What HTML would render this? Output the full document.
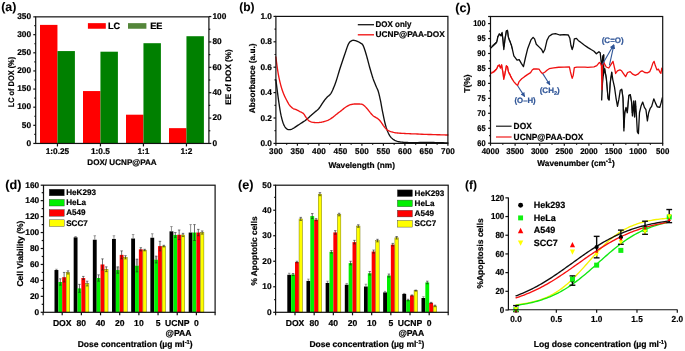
<!DOCTYPE html>
<html><head><meta charset="utf-8"><title>Figure</title>
<style>
html,body{margin:0;padding:0;background:#fff;}
body{width:685px;height:351px;overflow:hidden;}
svg{display:block;font-family:"Liberation Sans", Arial, Helvetica, sans-serif;text-rendering:geometricPrecision;filter:blur(0.4px);}
</style></head>
<body>
<svg width="685" height="351" viewBox="0 0 685 351">
<rect x="0" y="0" width="685" height="351" fill="#ffffff"/>
<rect x="40.00" y="24.89" width="17.45" height="118.56" fill="#ff0000"/>
<rect x="57.45" y="51.07" width="17.45" height="92.38" fill="#008000"/>
<rect x="83.00" y="91.06" width="17.45" height="52.39" fill="#ff0000"/>
<rect x="100.45" y="51.70" width="17.45" height="91.75" fill="#008000"/>
<rect x="126.00" y="114.70" width="17.45" height="28.75" fill="#ff0000"/>
<rect x="143.45" y="43.20" width="17.45" height="100.25" fill="#008000"/>
<rect x="169.00" y="128.15" width="17.45" height="15.30" fill="#ff0000"/>
<rect x="186.45" y="36.22" width="17.45" height="107.23" fill="#008000"/>
<rect x="35.7" y="16.85" width="173.20" height="126.60" fill="none" stroke="#111" stroke-width="1.2"/>
<line x1="33.30" y1="143.45" x2="35.70" y2="143.45" stroke="#111" stroke-width="1.2" />
<text transform="translate(31.10 145.67) scale(1.0 1.0)" font-size="8.3" text-anchor="end" fill="#000" stroke="#000" stroke-width="0.2" font-weight="bold" >0</text>
<line x1="34.30" y1="134.39" x2="35.70" y2="134.39" stroke="#111" stroke-width="1.2" />
<line x1="33.30" y1="125.32" x2="35.70" y2="125.32" stroke="#111" stroke-width="1.2" />
<text transform="translate(31.10 127.54) scale(1.0 1.0)" font-size="8.3" text-anchor="end" fill="#000" stroke="#000" stroke-width="0.2" font-weight="bold" >50</text>
<line x1="34.30" y1="116.26" x2="35.70" y2="116.26" stroke="#111" stroke-width="1.2" />
<line x1="33.30" y1="107.19" x2="35.70" y2="107.19" stroke="#111" stroke-width="1.2" />
<text transform="translate(31.10 109.41) scale(1.0 1.0)" font-size="8.3" text-anchor="end" fill="#000" stroke="#000" stroke-width="0.2" font-weight="bold" >100</text>
<line x1="34.30" y1="98.13" x2="35.70" y2="98.13" stroke="#111" stroke-width="1.2" />
<line x1="33.30" y1="89.06" x2="35.70" y2="89.06" stroke="#111" stroke-width="1.2" />
<text transform="translate(31.10 91.29) scale(1.0 1.0)" font-size="8.3" text-anchor="end" fill="#000" stroke="#000" stroke-width="0.2" font-weight="bold" >150</text>
<line x1="34.30" y1="80.00" x2="35.70" y2="80.00" stroke="#111" stroke-width="1.2" />
<line x1="33.30" y1="70.94" x2="35.70" y2="70.94" stroke="#111" stroke-width="1.2" />
<text transform="translate(31.10 73.16) scale(1.0 1.0)" font-size="8.3" text-anchor="end" fill="#000" stroke="#000" stroke-width="0.2" font-weight="bold" >200</text>
<line x1="34.30" y1="61.87" x2="35.70" y2="61.87" stroke="#111" stroke-width="1.2" />
<line x1="33.30" y1="52.81" x2="35.70" y2="52.81" stroke="#111" stroke-width="1.2" />
<text transform="translate(31.10 55.03) scale(1.0 1.0)" font-size="8.3" text-anchor="end" fill="#000" stroke="#000" stroke-width="0.2" font-weight="bold" >250</text>
<line x1="34.30" y1="43.74" x2="35.70" y2="43.74" stroke="#111" stroke-width="1.2" />
<line x1="33.30" y1="34.68" x2="35.70" y2="34.68" stroke="#111" stroke-width="1.2" />
<text transform="translate(31.10 36.90) scale(1.0 1.0)" font-size="8.3" text-anchor="end" fill="#000" stroke="#000" stroke-width="0.2" font-weight="bold" >300</text>
<line x1="34.30" y1="25.61" x2="35.70" y2="25.61" stroke="#111" stroke-width="1.2" />
<line x1="33.30" y1="16.85" x2="35.70" y2="16.85" stroke="#111" stroke-width="1.2" />
<text transform="translate(31.10 19.07) scale(1.0 1.0)" font-size="8.3" text-anchor="end" fill="#000" stroke="#000" stroke-width="0.2" font-weight="bold" >350</text>
<line x1="208.90" y1="143.45" x2="211.30" y2="143.45" stroke="#111" stroke-width="1.2" />
<text transform="translate(212.40 145.67) scale(1.0 1.0)" font-size="8.3" text-anchor="start" fill="#000" stroke="#000" stroke-width="0.2" font-weight="bold" >0</text>
<line x1="208.90" y1="130.76" x2="210.30" y2="130.76" stroke="#111" stroke-width="1.2" />
<line x1="208.90" y1="118.07" x2="211.30" y2="118.07" stroke="#111" stroke-width="1.2" />
<text transform="translate(212.40 120.29) scale(1.0 1.0)" font-size="8.3" text-anchor="start" fill="#000" stroke="#000" stroke-width="0.2" font-weight="bold" >20</text>
<line x1="208.90" y1="105.38" x2="210.30" y2="105.38" stroke="#111" stroke-width="1.2" />
<line x1="208.90" y1="92.69" x2="211.30" y2="92.69" stroke="#111" stroke-width="1.2" />
<text transform="translate(212.40 94.91) scale(1.0 1.0)" font-size="8.3" text-anchor="start" fill="#000" stroke="#000" stroke-width="0.2" font-weight="bold" >40</text>
<line x1="208.90" y1="80.00" x2="210.30" y2="80.00" stroke="#111" stroke-width="1.2" />
<line x1="208.90" y1="67.31" x2="211.30" y2="67.31" stroke="#111" stroke-width="1.2" />
<text transform="translate(212.40 69.53) scale(1.0 1.0)" font-size="8.3" text-anchor="start" fill="#000" stroke="#000" stroke-width="0.2" font-weight="bold" >60</text>
<line x1="208.90" y1="54.62" x2="210.30" y2="54.62" stroke="#111" stroke-width="1.2" />
<line x1="208.90" y1="41.93" x2="211.30" y2="41.93" stroke="#111" stroke-width="1.2" />
<text transform="translate(212.40 44.15) scale(1.0 1.0)" font-size="8.3" text-anchor="start" fill="#000" stroke="#000" stroke-width="0.2" font-weight="bold" >80</text>
<line x1="208.90" y1="29.24" x2="210.30" y2="29.24" stroke="#111" stroke-width="1.2" />
<line x1="208.90" y1="16.55" x2="211.30" y2="16.55" stroke="#111" stroke-width="1.2" />
<text transform="translate(212.40 18.77) scale(1.0 1.0)" font-size="8.3" text-anchor="start" fill="#000" stroke="#000" stroke-width="0.2" font-weight="bold" >100</text>
<line x1="57.45" y1="143.45" x2="57.45" y2="146.45" stroke="#111" stroke-width="1.2" />
<text transform="translate(57.45 153.82) scale(1.0 1.0)" font-size="8.3" text-anchor="middle" fill="#000" stroke="#000" stroke-width="0.2" font-weight="bold" >1:0.25</text>
<line x1="100.45" y1="143.45" x2="100.45" y2="146.45" stroke="#111" stroke-width="1.2" />
<text transform="translate(100.45 153.82) scale(1.0 1.0)" font-size="8.3" text-anchor="middle" fill="#000" stroke="#000" stroke-width="0.2" font-weight="bold" >1:0.5</text>
<line x1="143.45" y1="143.45" x2="143.45" y2="146.45" stroke="#111" stroke-width="1.2" />
<text transform="translate(143.45 153.82) scale(1.0 1.0)" font-size="8.3" text-anchor="middle" fill="#000" stroke="#000" stroke-width="0.2" font-weight="bold" >1:1</text>
<line x1="186.45" y1="143.45" x2="186.45" y2="146.45" stroke="#111" stroke-width="1.2" />
<text transform="translate(186.45 153.82) scale(1.0 1.0)" font-size="8.3" text-anchor="middle" fill="#000" stroke="#000" stroke-width="0.2" font-weight="bold" >1:2</text>
<text transform="translate(122.00 165.25) scale(1.0 1.0)" font-size="8.1" text-anchor="middle" fill="#000" stroke="#000" stroke-width="0.2" font-weight="bold" >DOX/ UCNP@PAA</text>
<text transform="translate(11.40 82.10) rotate(-90) scale(1.0 1.0) translate(0 2.94)" font-size="8.2" text-anchor="middle" fill="#000" stroke="#000" stroke-width="0.2" font-weight="bold" textLength="50.4" lengthAdjust="spacingAndGlyphs">LC of DOX (%)</text>
<text transform="translate(227.70 77.00) rotate(-90) scale(1.0 1.0) translate(0 2.90)" font-size="8.1" text-anchor="middle" fill="#000" stroke="#000" stroke-width="0.2" font-weight="bold" >EE of DOX (%)</text>
<rect x="87.90" y="23.15" width="17.90" height="5.60" fill="#ff0000"/>
<text transform="translate(108.00 28.64) scale(1.0 1.0)" font-size="9.2" text-anchor="start" fill="#000" stroke="#000" stroke-width="0.2" font-weight="bold" >LC</text>
<rect x="128.00" y="23.15" width="18.40" height="5.60" fill="#54863a"/>
<text transform="translate(150.20 28.64) scale(1.0 1.0)" font-size="9.2" text-anchor="start" fill="#000" stroke="#000" stroke-width="0.2" font-weight="bold" >EE</text>
<text transform="translate(1.20 11.19) scale(1.0 1.0)" font-size="12.4" text-anchor="start" fill="#000" stroke="#000" stroke-width="0.08" font-weight="bold" >(a)</text>
<polyline points="275.90,79.90 276.04,80.98 276.22,82.44 276.44,84.19 276.68,86.11 276.94,88.10 277.19,90.06 277.45,92.03 277.72,94.11 278.00,96.25 278.29,98.43 278.59,100.61 278.91,102.76 279.24,104.92 279.58,107.13 279.93,109.35 280.30,111.51 280.67,113.56 281.06,115.46 281.46,117.21 281.87,118.87 282.30,120.42 282.73,121.86 283.18,123.17 283.64,124.35 284.12,125.39 284.61,126.29 285.12,127.07 285.63,127.74 286.14,128.31 286.65,128.80 287.15,129.17 287.64,129.43 288.13,129.60 288.62,129.68 289.13,129.70 289.66,129.68 290.20,129.61 290.74,129.48 291.30,129.28 291.87,129.03 292.47,128.74 293.10,128.41 293.77,128.04 294.47,127.60 295.20,127.11 295.93,126.61 296.67,126.10 297.40,125.62 298.12,125.16 298.83,124.69 299.55,124.23 300.27,123.77 300.98,123.30 301.70,122.83 302.42,122.36 303.13,121.89 303.85,121.43 304.57,120.95 305.28,120.44 306.00,119.91 306.72,119.32 307.43,118.70 308.15,118.06 308.87,117.40 309.58,116.74 310.30,116.09 311.02,115.46 311.73,114.83 312.45,114.19 313.17,113.55 313.88,112.92 314.60,112.29 315.32,111.68 316.03,111.11 316.75,110.54 317.47,109.93 318.18,109.26 318.90,108.47 319.63,107.54 320.37,106.48 321.10,105.34 321.83,104.19 322.53,103.10 323.20,102.12 323.82,101.26 324.41,100.46 324.97,99.70 325.53,99.00 326.08,98.33 326.64,97.68 327.22,97.09 327.82,96.57 328.41,96.09 329.00,95.61 329.56,95.09 330.08,94.50 330.55,93.89 330.97,93.28 331.37,92.64 331.77,91.92 332.19,91.07 332.66,90.06 333.17,88.89 333.71,87.61 334.27,86.21 334.86,84.67 335.47,83.00 336.10,81.17 336.77,79.12 337.47,76.84 338.20,74.42 338.93,71.95 339.67,69.51 340.40,67.20 341.14,64.95 341.90,62.68 342.66,60.45 343.39,58.31 344.08,56.31 344.70,54.50 345.24,52.89 345.72,51.44 346.15,50.13 346.55,48.95 346.92,47.87 347.28,46.88 347.62,46.00 347.92,45.25 348.19,44.61 348.46,44.05 348.72,43.54 349.00,43.07 349.28,42.65 349.54,42.30 349.81,42.01 350.08,41.75 350.38,41.52 350.72,41.29 351.09,41.06 351.48,40.83 351.90,40.62 352.34,40.45 352.81,40.33 353.30,40.28 353.82,40.30 354.37,40.39 354.94,40.54 355.53,40.72 356.13,40.94 356.74,41.17 357.38,41.42 358.05,41.70 358.73,42.01 359.40,42.35 360.03,42.70 360.61,43.07 361.11,43.38 361.55,43.63 361.95,43.90 362.35,44.27 362.75,44.81 363.19,45.61 363.66,46.68 364.15,47.96 364.64,49.42 365.15,51.02 365.67,52.72 366.20,54.50 366.75,56.41 367.31,58.50 367.89,60.69 368.48,62.92 369.06,65.11 369.64,67.20 370.22,69.22 370.80,71.25 371.39,73.23 371.97,75.15 372.53,76.96 373.08,78.63 373.62,80.15 374.15,81.55 374.67,82.84 375.17,84.04 375.64,85.17 376.09,86.25 376.50,87.20 376.87,87.99 377.22,88.71 377.56,89.45 377.89,90.29 378.24,91.33 378.60,92.56 378.96,93.92 379.31,95.38 379.67,96.93 380.03,98.55 380.39,100.22 380.75,101.99 381.11,103.89 381.46,105.86 381.82,107.84 382.18,109.79 382.54,111.65 382.90,113.45 383.26,115.22 383.61,116.97 383.97,118.66 384.33,120.28 384.69,121.81 385.04,123.25 385.39,124.61 385.74,125.90 386.09,127.13 386.46,128.30 386.84,129.43 387.25,130.52 387.67,131.57 388.10,132.57 388.54,133.50 388.99,134.36 389.42,135.15 389.84,135.83 390.25,136.42 390.66,136.95 391.08,137.42 391.52,137.87 392.00,138.32 392.51,138.76 393.05,139.19 393.61,139.58 394.20,139.95 394.81,140.29 395.44,140.61 396.10,140.89 396.78,141.13 397.48,141.35 398.21,141.55 398.96,141.72 399.74,141.88 400.51,142.01 401.27,142.11 402.05,142.19 402.89,142.26 403.83,142.32 404.90,142.38 406.08,142.45 407.35,142.51 408.72,142.56 410.19,142.60 411.78,142.63 413.50,142.64 415.43,142.62 417.56,142.57 419.82,142.51 422.10,142.45 424.32,142.40 426.40,142.38 428.32,142.40 430.14,142.43 431.91,142.48 433.65,142.53 435.38,142.59 437.15,142.64 439.07,142.68 441.13,142.73 443.20,142.78 445.11,142.83 446.73,142.86 447.90,142.89" fill="none" stroke="#111" stroke-width="1.35" stroke-linejoin="round" stroke-linecap="round" />
<polyline points="275.90,57.04 276.04,58.15 276.22,59.67 276.44,61.48 276.68,63.44 276.94,65.39 277.19,67.20 277.45,68.91 277.72,70.63 278.00,72.36 278.29,74.07 278.59,75.74 278.91,77.36 279.24,78.93 279.58,80.46 279.93,81.96 280.30,83.43 280.67,84.86 281.06,86.25 281.46,87.61 281.87,88.93 282.30,90.22 282.73,91.47 283.18,92.69 283.64,93.87 284.12,95.02 284.61,96.13 285.12,97.20 285.63,98.24 286.14,99.25 286.65,100.22 287.15,101.16 287.64,102.08 288.13,102.96 288.62,103.79 289.13,104.58 289.66,105.30 290.21,105.96 290.77,106.57 291.35,107.13 291.94,107.63 292.52,108.08 293.10,108.47 293.67,108.79 294.25,109.02 294.82,109.19 295.39,109.35 295.97,109.52 296.54,109.75 297.11,110.03 297.69,110.33 298.26,110.66 298.83,110.99 299.41,111.33 299.98,111.65 300.56,111.95 301.16,112.21 301.75,112.48 302.34,112.78 302.90,113.13 303.42,113.56 303.90,114.09 304.34,114.71 304.76,115.38 305.17,116.07 305.58,116.74 306.00,117.37 306.43,117.95 306.84,118.53 307.26,119.10 307.69,119.63 308.13,120.11 308.58,120.54 309.05,120.90 309.52,121.21 310.00,121.47 310.51,121.69 311.03,121.89 311.59,122.06 312.18,122.21 312.80,122.33 313.44,122.42 314.11,122.49 314.78,122.54 315.46,122.57 316.15,122.60 316.86,122.60 317.58,122.60 318.31,122.57 319.04,122.52 319.76,122.45 320.48,122.35 321.19,122.23 321.91,122.09 322.63,121.93 323.34,121.75 324.06,121.56 324.78,121.35 325.49,121.14 326.21,120.91 326.93,120.65 327.64,120.36 328.36,120.03 329.08,119.66 329.79,119.26 330.51,118.82 331.23,118.35 331.94,117.87 332.66,117.37 333.38,116.84 334.09,116.27 334.81,115.69 335.53,115.10 336.24,114.51 336.96,113.94 337.68,113.38 338.39,112.83 339.11,112.28 339.83,111.74 340.54,111.19 341.26,110.63 341.98,110.06 342.69,109.46 343.41,108.86 344.13,108.27 344.84,107.71 345.56,107.21 346.28,106.74 346.99,106.31 347.71,105.90 348.43,105.54 349.14,105.21 349.86,104.92 350.58,104.68 351.29,104.49 352.01,104.33 352.73,104.21 353.44,104.11 354.16,104.03 354.89,103.98 355.63,103.95 356.36,103.96 357.09,103.98 357.79,104.01 358.46,104.03 359.09,104.04 359.70,104.04 360.29,104.05 360.85,104.09 361.39,104.16 361.90,104.28 362.37,104.46 362.81,104.67 363.22,104.93 363.62,105.22 364.04,105.56 364.48,105.94 364.96,106.37 365.45,106.86 365.96,107.39 366.47,107.95 366.98,108.53 367.49,109.11 368.00,109.72 368.51,110.37 369.02,111.04 369.53,111.70 370.02,112.34 370.50,112.92 370.95,113.46 371.39,113.97 371.82,114.45 372.24,114.90 372.65,115.33 373.08,115.71 373.51,116.06 373.94,116.35 374.37,116.61 374.80,116.86 375.23,117.10 375.66,117.37 376.09,117.63 376.52,117.87 376.95,118.12 377.38,118.38 377.81,118.67 378.24,119.02 378.67,119.40 379.10,119.83 379.53,120.28 379.96,120.76 380.39,121.27 380.82,121.81 381.25,122.39 381.68,123.03 382.11,123.69 382.54,124.36 382.97,125.01 383.40,125.62 383.83,126.20 384.26,126.77 384.69,127.33 385.12,127.85 385.55,128.35 385.98,128.80 386.40,129.19 386.81,129.55 387.22,129.87 387.64,130.16 388.08,130.43 388.56,130.70 389.07,130.95 389.61,131.18 390.17,131.40 390.76,131.60 391.37,131.79 392.00,131.97 392.62,132.14 393.21,132.30 393.83,132.45 394.52,132.60 395.32,132.73 396.30,132.86 397.48,132.98 398.85,133.10 400.33,133.21 401.87,133.31 403.42,133.41 404.90,133.49 406.28,133.57 407.61,133.64 408.93,133.69 410.31,133.75 411.82,133.81 413.50,133.88 415.40,133.95 417.48,134.04 419.68,134.13 421.94,134.22 424.20,134.30 426.40,134.38 428.60,134.46 430.86,134.52 433.12,134.59 435.32,134.65 437.40,134.71 439.30,134.76 441.08,134.82 442.80,134.87 444.41,134.91 445.83,134.96 447.01,134.99 447.90,135.02" fill="none" stroke="#f01515" stroke-width="1.35" stroke-linejoin="round" stroke-linecap="round" />
<rect x="275.9" y="16.4" width="172.00" height="127.00" fill="none" stroke="#111" stroke-width="1.2"/>
<line x1="273.50" y1="143.40" x2="275.90" y2="143.40" stroke="#111" stroke-width="1.2" />
<text transform="translate(272.00 145.92) scale(1.0 1.0)" font-size="8.3" text-anchor="end" fill="#000" stroke="#000" stroke-width="0.2" font-weight="bold" >0.0</text>
<line x1="274.50" y1="130.70" x2="275.90" y2="130.70" stroke="#111" stroke-width="1.2" />
<line x1="273.50" y1="118.00" x2="275.90" y2="118.00" stroke="#111" stroke-width="1.2" />
<text transform="translate(272.00 120.52) scale(1.0 1.0)" font-size="8.3" text-anchor="end" fill="#000" stroke="#000" stroke-width="0.2" font-weight="bold" >0.2</text>
<line x1="274.50" y1="105.30" x2="275.90" y2="105.30" stroke="#111" stroke-width="1.2" />
<line x1="273.50" y1="92.60" x2="275.90" y2="92.60" stroke="#111" stroke-width="1.2" />
<text transform="translate(272.00 95.12) scale(1.0 1.0)" font-size="8.3" text-anchor="end" fill="#000" stroke="#000" stroke-width="0.2" font-weight="bold" >0.4</text>
<line x1="274.50" y1="79.90" x2="275.90" y2="79.90" stroke="#111" stroke-width="1.2" />
<line x1="273.50" y1="67.20" x2="275.90" y2="67.20" stroke="#111" stroke-width="1.2" />
<text transform="translate(272.00 69.72) scale(1.0 1.0)" font-size="8.3" text-anchor="end" fill="#000" stroke="#000" stroke-width="0.2" font-weight="bold" >0.6</text>
<line x1="274.50" y1="54.50" x2="275.90" y2="54.50" stroke="#111" stroke-width="1.2" />
<line x1="273.50" y1="41.80" x2="275.90" y2="41.80" stroke="#111" stroke-width="1.2" />
<text transform="translate(272.00 44.32) scale(1.0 1.0)" font-size="8.3" text-anchor="end" fill="#000" stroke="#000" stroke-width="0.2" font-weight="bold" >0.8</text>
<line x1="274.50" y1="29.10" x2="275.90" y2="29.10" stroke="#111" stroke-width="1.2" />
<line x1="273.50" y1="16.40" x2="275.90" y2="16.40" stroke="#111" stroke-width="1.2" />
<text transform="translate(272.00 18.92) scale(1.0 1.0)" font-size="8.3" text-anchor="end" fill="#000" stroke="#000" stroke-width="0.2" font-weight="bold" >1.0</text>
<line x1="275.90" y1="143.40" x2="275.90" y2="145.80" stroke="#111" stroke-width="1.2" />
<text transform="translate(275.90 154.02) scale(0.98 1.0)" font-size="8.3" text-anchor="middle" fill="#000" stroke="#000" stroke-width="0.2" font-weight="bold" >300</text>
<line x1="286.65" y1="143.40" x2="286.65" y2="144.80" stroke="#111" stroke-width="1.2" />
<line x1="297.40" y1="143.40" x2="297.40" y2="145.80" stroke="#111" stroke-width="1.2" />
<text transform="translate(297.40 154.02) scale(0.98 1.0)" font-size="8.3" text-anchor="middle" fill="#000" stroke="#000" stroke-width="0.2" font-weight="bold" >350</text>
<line x1="308.15" y1="143.40" x2="308.15" y2="144.80" stroke="#111" stroke-width="1.2" />
<line x1="318.90" y1="143.40" x2="318.90" y2="145.80" stroke="#111" stroke-width="1.2" />
<text transform="translate(318.90 154.02) scale(0.98 1.0)" font-size="8.3" text-anchor="middle" fill="#000" stroke="#000" stroke-width="0.2" font-weight="bold" >400</text>
<line x1="329.65" y1="143.40" x2="329.65" y2="144.80" stroke="#111" stroke-width="1.2" />
<line x1="340.40" y1="143.40" x2="340.40" y2="145.80" stroke="#111" stroke-width="1.2" />
<text transform="translate(340.40 154.02) scale(0.98 1.0)" font-size="8.3" text-anchor="middle" fill="#000" stroke="#000" stroke-width="0.2" font-weight="bold" >450</text>
<line x1="351.15" y1="143.40" x2="351.15" y2="144.80" stroke="#111" stroke-width="1.2" />
<line x1="361.90" y1="143.40" x2="361.90" y2="145.80" stroke="#111" stroke-width="1.2" />
<text transform="translate(361.90 154.02) scale(0.98 1.0)" font-size="8.3" text-anchor="middle" fill="#000" stroke="#000" stroke-width="0.2" font-weight="bold" >500</text>
<line x1="372.65" y1="143.40" x2="372.65" y2="144.80" stroke="#111" stroke-width="1.2" />
<line x1="383.40" y1="143.40" x2="383.40" y2="145.80" stroke="#111" stroke-width="1.2" />
<text transform="translate(383.40 154.02) scale(0.98 1.0)" font-size="8.3" text-anchor="middle" fill="#000" stroke="#000" stroke-width="0.2" font-weight="bold" >550</text>
<line x1="394.15" y1="143.40" x2="394.15" y2="144.80" stroke="#111" stroke-width="1.2" />
<line x1="404.90" y1="143.40" x2="404.90" y2="145.80" stroke="#111" stroke-width="1.2" />
<text transform="translate(404.90 154.02) scale(0.98 1.0)" font-size="8.3" text-anchor="middle" fill="#000" stroke="#000" stroke-width="0.2" font-weight="bold" >600</text>
<line x1="415.65" y1="143.40" x2="415.65" y2="144.80" stroke="#111" stroke-width="1.2" />
<line x1="426.40" y1="143.40" x2="426.40" y2="145.80" stroke="#111" stroke-width="1.2" />
<text transform="translate(426.40 154.02) scale(0.98 1.0)" font-size="8.3" text-anchor="middle" fill="#000" stroke="#000" stroke-width="0.2" font-weight="bold" >650</text>
<line x1="437.15" y1="143.40" x2="437.15" y2="144.80" stroke="#111" stroke-width="1.2" />
<line x1="447.90" y1="143.40" x2="447.90" y2="145.80" stroke="#111" stroke-width="1.2" />
<text transform="translate(447.90 154.02) scale(0.98 1.0)" font-size="8.3" text-anchor="middle" fill="#000" stroke="#000" stroke-width="0.2" font-weight="bold" >700</text>
<text transform="translate(361.70 168.12) scale(1.0 1.0)" font-size="8.3" text-anchor="middle" fill="#000" stroke="#000" stroke-width="0.2" font-weight="bold" >Wavelength (nm)</text>
<text transform="translate(252.50 78.30) rotate(-90) scale(1.0 1.0) translate(0 2.95)" font-size="8.25" text-anchor="middle" fill="#000" stroke="#000" stroke-width="0.2" font-weight="bold" >Absorbance (a.u.)</text>
<line x1="357.80" y1="24.70" x2="374.00" y2="24.70" stroke="#222" stroke-width="1.35" />
<text transform="translate(375.60 27.02) scale(0.96 1.0)" font-size="8.3" text-anchor="start" fill="#000" stroke="#000" stroke-width="0.2" font-weight="bold" >DOX only</text>
<line x1="357.80" y1="34.80" x2="374.00" y2="34.80" stroke="#f01515" stroke-width="1.35" />
<text transform="translate(375.60 37.12) scale(1.0 1.0)" font-size="8.3" text-anchor="start" fill="#000" stroke="#000" stroke-width="0.2" font-weight="bold" >UCNP@PAA-DOX</text>
<text transform="translate(239.20 10.85) scale(1.0 1.0)" font-size="12" text-anchor="start" fill="#000" stroke="#000" stroke-width="0.08" font-weight="bold" >(b)</text>
<clipPath id="cc"><rect x="490.5" y="16.5" width="172.20" height="126.80"/></clipPath>
<g clip-path="url(#cc)">
<polyline points="490.34,48.46 493.55,45.26 496.75,42.05 497.82,36.71 499.53,33.93 501.03,35.64 502.09,32.44 503.16,42.05 503.80,49.53 504.87,39.91 506.37,30.94 507.44,30.30 508.50,37.78 510.21,42.05 511.71,46.32 513.85,55.94 517.05,60.21 519.19,59.57 521.32,63.42 523.46,66.62 525.60,57.01 527.74,48.46 530.94,39.91 533.08,37.35 534.57,38.85 536.28,44.19 539.49,47.39 541.62,49.53 543.12,52.74 544.83,49.53 546.97,40.34 549.10,36.28 552.31,34.15 555.51,33.72 559.79,35.00 564.06,34.57 568.33,35.00 569.83,38.21 570.90,45.26 572.18,49.53 573.25,46.32 574.32,38.85 576.45,38.42 578.20,40.40 581.00,42.60 584.50,45.20 588.00,47.60 591.50,49.80 594.00,51.20 596.37,53.80 598.93,51.67 600.21,52.74 601.07,61.28 601.92,65.98 602.78,55.94 603.85,54.87 601.67,99.91 602.09,87.09 603.16,76.41 604.66,68.93 606.37,78.55 607.44,91.37 608.08,98.85 609.15,99.91 610.21,82.82 611.71,72.14 612.78,79.62 614.49,87.09 615.98,97.78 617.48,106.32 618.76,99.91 620.26,90.30 621.75,89.23 623.03,97.78 623.89,130.90 624.74,112.74 626.03,107.39 627.31,112.74 628.80,95.64 630.30,94.57 631.58,102.05 632.44,115.94 633.72,100.98 634.57,117.01 635.43,100.98 636.28,112.74 637.35,131.97 638.42,133.68 639.49,112.74 640.98,106.32 642.69,102.05 644.40,107.39 645.90,109.53 647.39,120.85 648.68,112.74 650.17,108.46 651.67,106.32 653.80,98.85 655.51,103.12 657.22,106.75 659.79,107.39 661.28,102.05 662.35,97.78" fill="none" stroke="#0c0c0c" stroke-width="1.3" stroke-linejoin="round" stroke-linecap="round" />
<polyline points="492.00,46.08 492.60,46.84 493.20,44.70 493.80,45.59 494.40,43.56 495.00,44.55 495.60,42.62 496.20,43.43 496.80,41.24 497.40,39.60 498.00,35.83 498.60,36.04 499.20,33.68 499.80,35.25 500.40,34.31 501.00,36.28 501.60,33.02 502.20,34.46 502.80,37.92 503.40,45.59 504.00,46.67 504.60,42.94 505.20,36.92 505.80,35.05 506.40,30.29 507.00,31.18 507.60,30.73 508.20,36.65 508.80,37.87 509.40,40.89 510.00,40.62 510.60,43.91 511.20,44.02 511.80,47.32 512.40,48.85" fill="none" stroke="#0c0c0c" stroke-width="0.8" stroke-linejoin="round" stroke-linecap="round" />
<polyline points="603.50,54.56 604.10,72.30 604.70,68.34 605.30,73.08 605.90,75.15 606.50,80.82 607.10,86.81 607.70,95.20 608.30,98.55 608.90,100.39 609.50,93.70 610.10,85.18 610.70,78.63 611.30,75.97 611.90,72.91" fill="none" stroke="#0c0c0c" stroke-width="0.8" stroke-linejoin="round" stroke-linecap="round" />
<polyline points="622.00,90.29 622.60,95.40 623.20,103.46 623.80,127.94 624.40,119.35 625.00,112.28 625.60,108.69 626.20,108.80 626.80,110.15 627.40,112.33 628.00,104.34 628.60,98.46 629.20,94.72 629.80,95.75 630.40,94.66 631.00,99.21 631.60,101.62 632.20,112.98 632.80,110.98 633.40,105.32 634.00,105.38 634.60,116.97 635.20,104.41 635.80,106.69" fill="none" stroke="#0c0c0c" stroke-width="0.7" stroke-linejoin="round" stroke-linecap="round" />
<polyline points="490.34,73.68 493.55,71.97 496.75,68.76 497.82,65.98 499.53,65.13 500.38,68.12 501.67,65.13 503.16,74.10 503.80,79.44 505.30,71.97 506.37,65.98 507.44,66.62 508.50,71.97 510.21,75.17 510.80,76.70 512.40,79.30 514.00,81.80 515.90,84.00 517.60,85.40 519.10,81.60 521.70,78.80 524.20,76.90 527.40,74.60 530.60,72.60 532.20,70.00 533.80,68.90 536.40,69.00 539.00,69.20 540.90,72.00 542.40,73.50 544.70,72.20 547.30,70.00 549.20,68.70 553.70,67.90 558.72,67.26 564.06,67.05 569.40,66.84 570.47,71.97 572.18,78.38 573.25,75.17 574.32,67.69 576.88,67.05 585.00,67.05 587.80,67.30 594.00,66.90 596.80,65.60 599.40,62.40 600.60,63.50 601.40,66.00 601.90,89.60 602.40,66.00 603.70,62.20 606.20,67.00 608.80,68.00 611.40,63.90 613.00,61.40 614.80,69.10 615.60,73.50 617.40,70.80 619.90,69.90 621.60,70.80 623.30,73.30 625.60,76.60 627.60,72.50 630.20,71.60 632.70,74.20 635.30,75.40 637.90,74.20 640.40,71.60 642.10,70.80 644.70,72.50 647.30,72.80 649.80,71.60 651.50,67.40 652.90,63.10 654.10,61.40 655.30,65.60 657.00,69.90 658.40,69.10 660.10,72.50 660.90,73.30 661.80,68.20 662.60,70.80" fill="none" stroke="#f01010" stroke-width="1.3" stroke-linejoin="round" stroke-linecap="round" />
<polyline points="492.00,72.06 492.60,73.10 493.20,71.24 493.80,72.30 494.40,70.27 495.00,71.26 495.60,69.33 496.20,70.14 496.80,68.07 497.40,67.86 498.00,65.30 498.60,66.19 499.20,64.51 499.80,67.08 500.40,67.47 501.00,67.36 501.60,64.39 502.20,69.40 502.80,71.06 503.40,76.85 504.00,77.37 504.60,76.04 505.20,71.44 505.80,69.87 506.40,65.37 507.00,66.98 507.60,66.72 508.20,71.44 508.80,71.87 509.40,74.52 510.00,73.87 510.60,76.93 511.20,76.50 511.80,78.91" fill="none" stroke="#f01010" stroke-width="0.8" stroke-linejoin="round" stroke-linecap="round" />
</g>
<rect x="490.5" y="16.5" width="172.20" height="126.80" fill="none" stroke="#111" stroke-width="1.2"/>
<line x1="488.10" y1="16.50" x2="490.50" y2="16.50" stroke="#111" stroke-width="1.2" />
<line x1="488.10" y1="143.20" x2="490.50" y2="143.20" stroke="#111" stroke-width="1.2" />
<text transform="translate(485.60 145.72) scale(0.9 1.0)" font-size="8.3" text-anchor="end" fill="#000" stroke="#000" stroke-width="0.2" font-weight="bold" >60</text>
<line x1="489.10" y1="135.72" x2="490.50" y2="135.72" stroke="#111" stroke-width="1.2" />
<line x1="488.10" y1="128.25" x2="490.50" y2="128.25" stroke="#111" stroke-width="1.2" />
<text transform="translate(485.60 130.77) scale(0.9 1.0)" font-size="8.3" text-anchor="end" fill="#000" stroke="#000" stroke-width="0.2" font-weight="bold" >65</text>
<line x1="489.10" y1="120.77" x2="490.50" y2="120.77" stroke="#111" stroke-width="1.2" />
<line x1="488.10" y1="113.30" x2="490.50" y2="113.30" stroke="#111" stroke-width="1.2" />
<text transform="translate(485.60 115.82) scale(0.9 1.0)" font-size="8.3" text-anchor="end" fill="#000" stroke="#000" stroke-width="0.2" font-weight="bold" >70</text>
<line x1="489.10" y1="105.82" x2="490.50" y2="105.82" stroke="#111" stroke-width="1.2" />
<line x1="488.10" y1="98.35" x2="490.50" y2="98.35" stroke="#111" stroke-width="1.2" />
<text transform="translate(485.60 100.87) scale(0.9 1.0)" font-size="8.3" text-anchor="end" fill="#000" stroke="#000" stroke-width="0.2" font-weight="bold" >75</text>
<line x1="489.10" y1="90.87" x2="490.50" y2="90.87" stroke="#111" stroke-width="1.2" />
<line x1="488.10" y1="83.40" x2="490.50" y2="83.40" stroke="#111" stroke-width="1.2" />
<text transform="translate(485.60 85.92) scale(0.9 1.0)" font-size="8.3" text-anchor="end" fill="#000" stroke="#000" stroke-width="0.2" font-weight="bold" >80</text>
<line x1="489.10" y1="75.92" x2="490.50" y2="75.92" stroke="#111" stroke-width="1.2" />
<line x1="488.10" y1="68.45" x2="490.50" y2="68.45" stroke="#111" stroke-width="1.2" />
<text transform="translate(485.60 70.97) scale(0.9 1.0)" font-size="8.3" text-anchor="end" fill="#000" stroke="#000" stroke-width="0.2" font-weight="bold" >85</text>
<line x1="489.10" y1="60.97" x2="490.50" y2="60.97" stroke="#111" stroke-width="1.2" />
<line x1="488.10" y1="53.50" x2="490.50" y2="53.50" stroke="#111" stroke-width="1.2" />
<text transform="translate(485.60 56.02) scale(0.9 1.0)" font-size="8.3" text-anchor="end" fill="#000" stroke="#000" stroke-width="0.2" font-weight="bold" >90</text>
<line x1="489.10" y1="46.02" x2="490.50" y2="46.02" stroke="#111" stroke-width="1.2" />
<line x1="488.10" y1="38.55" x2="490.50" y2="38.55" stroke="#111" stroke-width="1.2" />
<text transform="translate(485.60 41.07) scale(0.9 1.0)" font-size="8.3" text-anchor="end" fill="#000" stroke="#000" stroke-width="0.2" font-weight="bold" >95</text>
<line x1="489.10" y1="31.07" x2="490.50" y2="31.07" stroke="#111" stroke-width="1.2" />
<line x1="488.10" y1="23.60" x2="490.50" y2="23.60" stroke="#111" stroke-width="1.2" />
<text transform="translate(485.60 26.12) scale(0.9 1.0)" font-size="8.3" text-anchor="end" fill="#000" stroke="#000" stroke-width="0.2" font-weight="bold" >100</text>
<line x1="662.70" y1="143.30" x2="662.70" y2="145.70" stroke="#111" stroke-width="1.2" />
<text transform="translate(662.70 153.82) scale(0.95 1.0)" font-size="8.3" text-anchor="middle" fill="#000" stroke="#000" stroke-width="0.2" font-weight="bold" >500</text>
<line x1="650.40" y1="143.30" x2="650.40" y2="144.70" stroke="#111" stroke-width="1.2" />
<line x1="638.10" y1="143.30" x2="638.10" y2="145.70" stroke="#111" stroke-width="1.2" />
<text transform="translate(638.10 153.82) scale(0.95 1.0)" font-size="8.3" text-anchor="middle" fill="#000" stroke="#000" stroke-width="0.2" font-weight="bold" >1000</text>
<line x1="625.80" y1="143.30" x2="625.80" y2="144.70" stroke="#111" stroke-width="1.2" />
<line x1="613.50" y1="143.30" x2="613.50" y2="145.70" stroke="#111" stroke-width="1.2" />
<text transform="translate(613.50 153.82) scale(0.95 1.0)" font-size="8.3" text-anchor="middle" fill="#000" stroke="#000" stroke-width="0.2" font-weight="bold" >1500</text>
<line x1="601.20" y1="143.30" x2="601.20" y2="144.70" stroke="#111" stroke-width="1.2" />
<line x1="588.90" y1="143.30" x2="588.90" y2="145.70" stroke="#111" stroke-width="1.2" />
<text transform="translate(588.90 153.82) scale(0.95 1.0)" font-size="8.3" text-anchor="middle" fill="#000" stroke="#000" stroke-width="0.2" font-weight="bold" >2000</text>
<line x1="576.60" y1="143.30" x2="576.60" y2="144.70" stroke="#111" stroke-width="1.2" />
<line x1="564.30" y1="143.30" x2="564.30" y2="145.70" stroke="#111" stroke-width="1.2" />
<text transform="translate(564.30 153.82) scale(0.95 1.0)" font-size="8.3" text-anchor="middle" fill="#000" stroke="#000" stroke-width="0.2" font-weight="bold" >2500</text>
<line x1="552.00" y1="143.30" x2="552.00" y2="144.70" stroke="#111" stroke-width="1.2" />
<line x1="539.70" y1="143.30" x2="539.70" y2="145.70" stroke="#111" stroke-width="1.2" />
<text transform="translate(539.70 153.82) scale(0.95 1.0)" font-size="8.3" text-anchor="middle" fill="#000" stroke="#000" stroke-width="0.2" font-weight="bold" >3000</text>
<line x1="527.40" y1="143.30" x2="527.40" y2="144.70" stroke="#111" stroke-width="1.2" />
<line x1="515.10" y1="143.30" x2="515.10" y2="145.70" stroke="#111" stroke-width="1.2" />
<text transform="translate(515.10 153.82) scale(0.95 1.0)" font-size="8.3" text-anchor="middle" fill="#000" stroke="#000" stroke-width="0.2" font-weight="bold" >3500</text>
<line x1="502.80" y1="143.30" x2="502.80" y2="144.70" stroke="#111" stroke-width="1.2" />
<line x1="490.50" y1="143.30" x2="490.50" y2="145.70" stroke="#111" stroke-width="1.2" />
<text transform="translate(490.50 153.82) scale(0.95 1.0)" font-size="8.3" text-anchor="middle" fill="#000" stroke="#000" stroke-width="0.2" font-weight="bold" >4000</text>
<text x="576" y="166.01" font-size="8.25" text-anchor="middle" font-weight="bold" stroke="#000" stroke-width="0.22">Wavenumber (cm<tspan font-size="6.8" dy="-2.7">-1</tspan><tspan dy="2.7">)</tspan></text>
<text transform="translate(466.90 83.60) rotate(-90) scale(1.0 1.0) translate(0 3.04)" font-size="8.5" text-anchor="middle" fill="#000" stroke="#000" stroke-width="0.2" font-weight="bold" >T(%)</text>
<line x1="496.00" y1="126.20" x2="511.60" y2="126.20" stroke="#111" stroke-width="1.15" />
<text transform="translate(513.60 128.70) scale(0.95 1.0)" font-size="8.8" text-anchor="start" fill="#000" stroke="#000" stroke-width="0.2" font-weight="bold" >DOX</text>
<line x1="496.00" y1="137.00" x2="511.60" y2="137.00" stroke="#f01010" stroke-width="1.15" />
<text transform="translate(513.60 139.70) scale(0.95 1.0)" font-size="8.8" text-anchor="start" fill="#000" stroke="#000" stroke-width="0.2" font-weight="bold" >UCNP@PAA-DOX</text>
<text transform="translate(455.20 11.66) scale(1.0 1.0)" font-size="12.6" text-anchor="start" fill="#000" stroke="#000" stroke-width="0.08" font-weight="bold" >(c)</text>
<text transform="translate(612.70 42.71) scale(1.0 1.0)" font-size="8.0" text-anchor="middle" fill="#2f5597" stroke="#2f5597" stroke-width="0.2" font-weight="bold" >(C=O)</text>
<text x="549.7" y="93.21" font-size="8.0" text-anchor="middle" font-weight="bold" fill="#2f5597" stroke="#2f5597" stroke-width="0.22">(CH<tspan font-size="5.6" dy="1.6">2</tspan><tspan dy="-1.6">)</tspan></text>
<text transform="translate(525.10 102.94) scale(1.0 1.0)" font-size="7.8" text-anchor="middle" fill="#2f5597" stroke="#2f5597" stroke-width="0.2" font-weight="bold" >(O–H)</text>
<defs><marker id="ah" viewBox="0 0 10 10" refX="9" refY="5" markerUnits="userSpaceOnUse" markerWidth="5.2" markerHeight="4.4" orient="auto"><path d="M0,0 L10,5 L0,10 z" fill="#2f5597"/></marker></defs>
<line x1="542.8" y1="73.6" x2="549.9" y2="85.0" stroke="#2f5597" stroke-width="1.1" marker-end="url(#ah)"/>
<line x1="517.6" y1="85.8" x2="524.7" y2="96.6" stroke="#2f5597" stroke-width="1.1" marker-end="url(#ah)"/>
<line x1="602.3" y1="64.6" x2="613.7" y2="44.8" stroke="#2f5597" stroke-width="1.1" marker-end="url(#ah)"/>
<line x1="609.4" y1="65.3" x2="613.9" y2="44.8" stroke="#2f5597" stroke-width="1.1" marker-end="url(#ah)"/>
<rect x="54.50" y="270.03" width="3.85" height="42.27" fill="#000000"/>
<line x1="56.42" y1="270.03" x2="56.42" y2="269.24" stroke="#555" stroke-width="0.65" />
<line x1="55.17" y1="269.24" x2="57.67" y2="269.24" stroke="#555" stroke-width="0.55" />
<rect x="58.35" y="282.00" width="3.85" height="30.31" fill="#00f000"/>
<line x1="60.27" y1="285.19" x2="60.27" y2="278.81" stroke="#1c1c1c" stroke-width="0.65" />
<line x1="59.02" y1="278.81" x2="61.52" y2="278.81" stroke="#1c1c1c" stroke-width="0.55" />
<line x1="59.02" y1="285.19" x2="61.52" y2="285.19" stroke="#1c1c1c" stroke-width="0.55" />
<rect x="62.20" y="277.21" width="3.85" height="35.09" fill="#ff0000"/>
<line x1="64.12" y1="282.00" x2="64.12" y2="272.43" stroke="#1c1c1c" stroke-width="0.65" />
<line x1="62.88" y1="272.43" x2="65.38" y2="272.43" stroke="#1c1c1c" stroke-width="0.55" />
<line x1="62.88" y1="282.00" x2="65.38" y2="282.00" stroke="#1c1c1c" stroke-width="0.55" />
<rect x="66.25" y="272.43" width="3.45" height="39.88" fill="#ffff00" stroke="#6b6b00" stroke-width="0.45"/>
<line x1="67.97" y1="274.02" x2="67.97" y2="270.83" stroke="#1c1c1c" stroke-width="0.65" />
<line x1="66.72" y1="270.83" x2="69.22" y2="270.83" stroke="#1c1c1c" stroke-width="0.55" />
<line x1="66.72" y1="274.02" x2="69.22" y2="274.02" stroke="#1c1c1c" stroke-width="0.55" />
<rect x="73.67" y="237.34" width="3.85" height="74.97" fill="#000000"/>
<line x1="75.59" y1="237.34" x2="75.59" y2="236.54" stroke="#555" stroke-width="0.65" />
<line x1="74.34" y1="236.54" x2="76.84" y2="236.54" stroke="#555" stroke-width="0.55" />
<rect x="77.52" y="288.38" width="3.85" height="23.93" fill="#00f000"/>
<line x1="79.44" y1="292.36" x2="79.44" y2="284.39" stroke="#1c1c1c" stroke-width="0.65" />
<line x1="78.19" y1="284.39" x2="80.69" y2="284.39" stroke="#1c1c1c" stroke-width="0.55" />
<line x1="78.19" y1="292.36" x2="80.69" y2="292.36" stroke="#1c1c1c" stroke-width="0.55" />
<rect x="81.37" y="278.01" width="3.85" height="34.29" fill="#ff0000"/>
<line x1="83.30" y1="279.60" x2="83.30" y2="276.41" stroke="#1c1c1c" stroke-width="0.65" />
<line x1="82.05" y1="276.41" x2="84.55" y2="276.41" stroke="#1c1c1c" stroke-width="0.55" />
<line x1="82.05" y1="279.60" x2="84.55" y2="279.60" stroke="#1c1c1c" stroke-width="0.55" />
<rect x="85.42" y="283.59" width="3.45" height="28.71" fill="#ffff00" stroke="#6b6b00" stroke-width="0.45"/>
<line x1="87.14" y1="285.98" x2="87.14" y2="281.20" stroke="#1c1c1c" stroke-width="0.65" />
<line x1="85.89" y1="281.20" x2="88.39" y2="281.20" stroke="#1c1c1c" stroke-width="0.55" />
<line x1="85.89" y1="285.98" x2="88.39" y2="285.98" stroke="#1c1c1c" stroke-width="0.55" />
<rect x="92.84" y="239.73" width="3.85" height="72.57" fill="#000000"/>
<line x1="94.77" y1="239.73" x2="94.77" y2="235.74" stroke="#555" stroke-width="0.65" />
<line x1="93.52" y1="235.74" x2="96.02" y2="235.74" stroke="#555" stroke-width="0.55" />
<rect x="96.69" y="278.01" width="3.85" height="34.29" fill="#00f000"/>
<line x1="98.61" y1="281.20" x2="98.61" y2="274.82" stroke="#1c1c1c" stroke-width="0.65" />
<line x1="97.36" y1="274.82" x2="99.86" y2="274.82" stroke="#1c1c1c" stroke-width="0.55" />
<line x1="97.36" y1="281.20" x2="99.86" y2="281.20" stroke="#1c1c1c" stroke-width="0.55" />
<rect x="100.54" y="264.45" width="3.85" height="47.85" fill="#ff0000"/>
<line x1="102.47" y1="270.03" x2="102.47" y2="258.87" stroke="#1c1c1c" stroke-width="0.65" />
<line x1="101.22" y1="258.87" x2="103.72" y2="258.87" stroke="#1c1c1c" stroke-width="0.55" />
<line x1="101.22" y1="270.03" x2="103.72" y2="270.03" stroke="#1c1c1c" stroke-width="0.55" />
<rect x="104.59" y="269.24" width="3.45" height="43.07" fill="#ffff00" stroke="#6b6b00" stroke-width="0.45"/>
<line x1="106.31" y1="271.63" x2="106.31" y2="266.84" stroke="#1c1c1c" stroke-width="0.65" />
<line x1="105.06" y1="266.84" x2="107.56" y2="266.84" stroke="#1c1c1c" stroke-width="0.55" />
<line x1="105.06" y1="271.63" x2="107.56" y2="271.63" stroke="#1c1c1c" stroke-width="0.55" />
<rect x="112.01" y="238.93" width="3.85" height="73.37" fill="#000000"/>
<line x1="113.94" y1="238.93" x2="113.94" y2="235.74" stroke="#555" stroke-width="0.65" />
<line x1="112.69" y1="235.74" x2="115.19" y2="235.74" stroke="#555" stroke-width="0.55" />
<rect x="115.86" y="270.03" width="3.85" height="42.27" fill="#00f000"/>
<rect x="116.16" y="266.84" width="3.25" height="3.19" fill="#cfcfcf"/>
<line x1="117.78" y1="273.22" x2="117.78" y2="266.84" stroke="#1c1c1c" stroke-width="0.65" />
<line x1="116.53" y1="266.84" x2="119.03" y2="266.84" stroke="#1c1c1c" stroke-width="0.55" />
<line x1="116.53" y1="273.22" x2="119.03" y2="273.22" stroke="#1c1c1c" stroke-width="0.55" />
<rect x="119.71" y="254.88" width="3.85" height="57.42" fill="#ff0000"/>
<line x1="121.64" y1="258.87" x2="121.64" y2="250.89" stroke="#1c1c1c" stroke-width="0.65" />
<line x1="120.39" y1="250.89" x2="122.89" y2="250.89" stroke="#1c1c1c" stroke-width="0.55" />
<line x1="120.39" y1="258.87" x2="122.89" y2="258.87" stroke="#1c1c1c" stroke-width="0.55" />
<rect x="123.76" y="257.27" width="3.45" height="55.03" fill="#ffff00" stroke="#6b6b00" stroke-width="0.45"/>
<line x1="125.48" y1="258.87" x2="125.48" y2="255.68" stroke="#1c1c1c" stroke-width="0.65" />
<line x1="124.23" y1="255.68" x2="126.73" y2="255.68" stroke="#1c1c1c" stroke-width="0.55" />
<line x1="124.23" y1="258.87" x2="126.73" y2="258.87" stroke="#1c1c1c" stroke-width="0.55" />
<rect x="131.18" y="238.53" width="3.85" height="73.77" fill="#000000"/>
<line x1="133.11" y1="238.53" x2="133.11" y2="234.54" stroke="#555" stroke-width="0.65" />
<line x1="131.86" y1="234.54" x2="134.36" y2="234.54" stroke="#555" stroke-width="0.55" />
<rect x="135.03" y="265.49" width="3.85" height="46.81" fill="#00f000"/>
<rect x="135.33" y="259.11" width="3.25" height="6.38" fill="#cfcfcf"/>
<line x1="136.96" y1="271.87" x2="136.96" y2="259.11" stroke="#1c1c1c" stroke-width="0.65" />
<line x1="135.71" y1="259.11" x2="138.21" y2="259.11" stroke="#1c1c1c" stroke-width="0.55" />
<line x1="135.71" y1="271.87" x2="138.21" y2="271.87" stroke="#1c1c1c" stroke-width="0.55" />
<rect x="138.88" y="249.30" width="3.85" height="63.00" fill="#ff0000"/>
<line x1="140.81" y1="250.89" x2="140.81" y2="247.70" stroke="#1c1c1c" stroke-width="0.65" />
<line x1="139.56" y1="247.70" x2="142.06" y2="247.70" stroke="#1c1c1c" stroke-width="0.55" />
<line x1="139.56" y1="250.89" x2="142.06" y2="250.89" stroke="#1c1c1c" stroke-width="0.55" />
<rect x="142.93" y="250.09" width="3.45" height="62.21" fill="#ffff00" stroke="#6b6b00" stroke-width="0.45"/>
<line x1="144.66" y1="250.89" x2="144.66" y2="249.30" stroke="#1c1c1c" stroke-width="0.65" />
<line x1="143.41" y1="249.30" x2="145.91" y2="249.30" stroke="#1c1c1c" stroke-width="0.55" />
<line x1="143.41" y1="250.89" x2="145.91" y2="250.89" stroke="#1c1c1c" stroke-width="0.55" />
<rect x="150.35" y="237.73" width="3.85" height="74.57" fill="#000000"/>
<line x1="152.28" y1="237.73" x2="152.28" y2="233.75" stroke="#555" stroke-width="0.65" />
<line x1="151.03" y1="233.75" x2="153.53" y2="233.75" stroke="#555" stroke-width="0.55" />
<rect x="154.20" y="259.51" width="3.85" height="52.79" fill="#00f000"/>
<rect x="154.50" y="256.08" width="3.25" height="3.43" fill="#cfcfcf"/>
<line x1="156.13" y1="262.93" x2="156.13" y2="256.08" stroke="#1c1c1c" stroke-width="0.65" />
<line x1="154.88" y1="256.08" x2="157.38" y2="256.08" stroke="#1c1c1c" stroke-width="0.55" />
<line x1="154.88" y1="262.93" x2="157.38" y2="262.93" stroke="#1c1c1c" stroke-width="0.55" />
<rect x="158.05" y="246.11" width="3.85" height="66.19" fill="#ff0000"/>
<line x1="159.98" y1="250.89" x2="159.98" y2="241.32" stroke="#1c1c1c" stroke-width="0.65" />
<line x1="158.73" y1="241.32" x2="161.23" y2="241.32" stroke="#1c1c1c" stroke-width="0.55" />
<line x1="158.73" y1="250.89" x2="161.23" y2="250.89" stroke="#1c1c1c" stroke-width="0.55" />
<rect x="162.10" y="246.11" width="3.45" height="66.19" fill="#ffff00" stroke="#6b6b00" stroke-width="0.45"/>
<line x1="163.83" y1="246.91" x2="163.83" y2="245.31" stroke="#1c1c1c" stroke-width="0.65" />
<line x1="162.58" y1="245.31" x2="165.08" y2="245.31" stroke="#1c1c1c" stroke-width="0.55" />
<line x1="162.58" y1="246.91" x2="165.08" y2="246.91" stroke="#1c1c1c" stroke-width="0.55" />
<rect x="169.52" y="231.35" width="3.85" height="80.95" fill="#000000"/>
<line x1="171.45" y1="231.35" x2="171.45" y2="226.57" stroke="#555" stroke-width="0.65" />
<line x1="170.20" y1="226.57" x2="172.70" y2="226.57" stroke="#555" stroke-width="0.55" />
<rect x="173.37" y="234.94" width="3.85" height="77.36" fill="#00f000"/>
<line x1="175.30" y1="237.34" x2="175.30" y2="232.55" stroke="#1c1c1c" stroke-width="0.65" />
<line x1="174.05" y1="232.55" x2="176.55" y2="232.55" stroke="#1c1c1c" stroke-width="0.55" />
<line x1="174.05" y1="237.34" x2="176.55" y2="237.34" stroke="#1c1c1c" stroke-width="0.55" />
<rect x="177.22" y="234.78" width="3.85" height="77.52" fill="#ff0000"/>
<line x1="179.15" y1="239.57" x2="179.15" y2="230.00" stroke="#1c1c1c" stroke-width="0.65" />
<line x1="177.90" y1="230.00" x2="180.40" y2="230.00" stroke="#1c1c1c" stroke-width="0.55" />
<line x1="177.90" y1="239.57" x2="180.40" y2="239.57" stroke="#1c1c1c" stroke-width="0.55" />
<rect x="181.27" y="234.94" width="3.45" height="77.36" fill="#ffff00" stroke="#6b6b00" stroke-width="0.45"/>
<line x1="183.00" y1="236.54" x2="183.00" y2="233.35" stroke="#1c1c1c" stroke-width="0.65" />
<line x1="181.75" y1="233.35" x2="184.25" y2="233.35" stroke="#1c1c1c" stroke-width="0.55" />
<line x1="181.75" y1="236.54" x2="184.25" y2="236.54" stroke="#1c1c1c" stroke-width="0.55" />
<rect x="188.69" y="232.55" width="3.85" height="79.75" fill="#000000"/>
<line x1="190.62" y1="232.55" x2="190.62" y2="224.58" stroke="#555" stroke-width="0.65" />
<line x1="189.37" y1="224.58" x2="191.87" y2="224.58" stroke="#555" stroke-width="0.55" />
<rect x="192.54" y="232.55" width="3.85" height="79.75" fill="#00f000"/>
<line x1="194.47" y1="240.53" x2="194.47" y2="224.58" stroke="#1c1c1c" stroke-width="0.65" />
<line x1="193.22" y1="224.58" x2="195.72" y2="224.58" stroke="#1c1c1c" stroke-width="0.55" />
<line x1="193.22" y1="240.53" x2="195.72" y2="240.53" stroke="#1c1c1c" stroke-width="0.55" />
<rect x="196.39" y="232.55" width="3.85" height="79.75" fill="#ff0000"/>
<line x1="198.31" y1="235.74" x2="198.31" y2="229.36" stroke="#1c1c1c" stroke-width="0.65" />
<line x1="197.06" y1="229.36" x2="199.56" y2="229.36" stroke="#1c1c1c" stroke-width="0.55" />
<line x1="197.06" y1="235.74" x2="199.56" y2="235.74" stroke="#1c1c1c" stroke-width="0.55" />
<rect x="200.44" y="232.55" width="3.45" height="79.75" fill="#ffff00" stroke="#6b6b00" stroke-width="0.45"/>
<line x1="202.17" y1="234.15" x2="202.17" y2="230.96" stroke="#1c1c1c" stroke-width="0.65" />
<line x1="200.92" y1="230.96" x2="203.42" y2="230.96" stroke="#1c1c1c" stroke-width="0.55" />
<line x1="200.92" y1="234.15" x2="203.42" y2="234.15" stroke="#1c1c1c" stroke-width="0.55" />
<rect x="43.5" y="185.2" width="171.60" height="127.10" fill="none" stroke="#111" stroke-width="1.2"/>
<line x1="40.70" y1="312.30" x2="43.10" y2="312.30" stroke="#111" stroke-width="1.2" />
<text transform="translate(39.20 314.82) scale(1.0 1.0)" font-size="8.3" text-anchor="end" fill="#000" stroke="#000" stroke-width="0.2" font-weight="bold" >0</text>
<line x1="41.70" y1="304.32" x2="43.10" y2="304.32" stroke="#111" stroke-width="1.2" />
<line x1="40.70" y1="296.35" x2="43.10" y2="296.35" stroke="#111" stroke-width="1.2" />
<text transform="translate(39.20 298.87) scale(1.0 1.0)" font-size="8.3" text-anchor="end" fill="#000" stroke="#000" stroke-width="0.2" font-weight="bold" >20</text>
<line x1="41.70" y1="288.38" x2="43.10" y2="288.38" stroke="#111" stroke-width="1.2" />
<line x1="40.70" y1="280.40" x2="43.10" y2="280.40" stroke="#111" stroke-width="1.2" />
<text transform="translate(39.20 282.92) scale(1.0 1.0)" font-size="8.3" text-anchor="end" fill="#000" stroke="#000" stroke-width="0.2" font-weight="bold" >40</text>
<line x1="41.70" y1="272.43" x2="43.10" y2="272.43" stroke="#111" stroke-width="1.2" />
<line x1="40.70" y1="264.45" x2="43.10" y2="264.45" stroke="#111" stroke-width="1.2" />
<text transform="translate(39.20 266.97) scale(1.0 1.0)" font-size="8.3" text-anchor="end" fill="#000" stroke="#000" stroke-width="0.2" font-weight="bold" >60</text>
<line x1="41.70" y1="256.48" x2="43.10" y2="256.48" stroke="#111" stroke-width="1.2" />
<line x1="40.70" y1="248.50" x2="43.10" y2="248.50" stroke="#111" stroke-width="1.2" />
<text transform="translate(39.20 251.02) scale(1.0 1.0)" font-size="8.3" text-anchor="end" fill="#000" stroke="#000" stroke-width="0.2" font-weight="bold" >80</text>
<line x1="41.70" y1="240.53" x2="43.10" y2="240.53" stroke="#111" stroke-width="1.2" />
<line x1="40.70" y1="232.55" x2="43.10" y2="232.55" stroke="#111" stroke-width="1.2" />
<text transform="translate(39.20 235.07) scale(1.0 1.0)" font-size="8.3" text-anchor="end" fill="#000" stroke="#000" stroke-width="0.2" font-weight="bold" >100</text>
<line x1="41.70" y1="224.57" x2="43.10" y2="224.57" stroke="#111" stroke-width="1.2" />
<line x1="40.70" y1="216.60" x2="43.10" y2="216.60" stroke="#111" stroke-width="1.2" />
<text transform="translate(39.20 219.12) scale(1.0 1.0)" font-size="8.3" text-anchor="end" fill="#000" stroke="#000" stroke-width="0.2" font-weight="bold" >120</text>
<line x1="41.70" y1="208.62" x2="43.10" y2="208.62" stroke="#111" stroke-width="1.2" />
<line x1="40.70" y1="200.65" x2="43.10" y2="200.65" stroke="#111" stroke-width="1.2" />
<text transform="translate(39.20 203.17) scale(1.0 1.0)" font-size="8.3" text-anchor="end" fill="#000" stroke="#000" stroke-width="0.2" font-weight="bold" >140</text>
<line x1="41.70" y1="192.68" x2="43.10" y2="192.68" stroke="#111" stroke-width="1.2" />
<line x1="40.70" y1="185.20" x2="43.10" y2="185.20" stroke="#111" stroke-width="1.2" />
<text transform="translate(39.20 187.72) scale(1.0 1.0)" font-size="8.3" text-anchor="end" fill="#000" stroke="#000" stroke-width="0.2" font-weight="bold" >160</text>
<line x1="43.10" y1="312.30" x2="43.10" y2="315.30" stroke="#111" stroke-width="1.2" />
<line x1="215.10" y1="312.30" x2="215.10" y2="315.30" stroke="#111" stroke-width="1.2" />
<line x1="62.20" y1="312.30" x2="62.20" y2="315.30" stroke="#111" stroke-width="1.2" />
<text transform="translate(62.20 325.73) scale(1.0 1.0)" font-size="8.6" text-anchor="middle" fill="#000" stroke="#000" stroke-width="0.2" font-weight="bold" >DOX</text>
<line x1="81.37" y1="312.30" x2="81.37" y2="315.30" stroke="#111" stroke-width="1.2" />
<text transform="translate(81.37 325.73) scale(1.0 1.0)" font-size="8.6" text-anchor="middle" fill="#000" stroke="#000" stroke-width="0.2" font-weight="bold" >80</text>
<line x1="100.54" y1="312.30" x2="100.54" y2="315.30" stroke="#111" stroke-width="1.2" />
<text transform="translate(100.54 325.73) scale(1.0 1.0)" font-size="8.6" text-anchor="middle" fill="#000" stroke="#000" stroke-width="0.2" font-weight="bold" >40</text>
<line x1="119.71" y1="312.30" x2="119.71" y2="315.30" stroke="#111" stroke-width="1.2" />
<text transform="translate(119.71 325.73) scale(1.0 1.0)" font-size="8.6" text-anchor="middle" fill="#000" stroke="#000" stroke-width="0.2" font-weight="bold" >20</text>
<line x1="138.88" y1="312.30" x2="138.88" y2="315.30" stroke="#111" stroke-width="1.2" />
<text transform="translate(138.88 325.73) scale(1.0 1.0)" font-size="8.6" text-anchor="middle" fill="#000" stroke="#000" stroke-width="0.2" font-weight="bold" >10</text>
<line x1="158.05" y1="312.30" x2="158.05" y2="315.30" stroke="#111" stroke-width="1.2" />
<text transform="translate(158.05 325.73) scale(1.0 1.0)" font-size="8.6" text-anchor="middle" fill="#000" stroke="#000" stroke-width="0.2" font-weight="bold" >5</text>
<line x1="177.22" y1="312.30" x2="177.22" y2="315.30" stroke="#111" stroke-width="1.2" />
<text transform="translate(177.22 325.73) scale(1.0 1.0)" font-size="8.6" text-anchor="middle" fill="#000" stroke="#000" stroke-width="0.2" font-weight="bold" >UCNP</text>
<line x1="196.39" y1="312.30" x2="196.39" y2="315.30" stroke="#111" stroke-width="1.2" />
<text transform="translate(196.39 325.73) scale(1.0 1.0)" font-size="8.6" text-anchor="middle" fill="#000" stroke="#000" stroke-width="0.2" font-weight="bold" >0</text>
<text transform="translate(178.52 336.23) scale(1.0 1.0)" font-size="8.6" text-anchor="middle" fill="#000" stroke="#000" stroke-width="0.2" font-weight="bold" >@PAA</text>
<text x="135.2" y="347.04" font-size="8.5" text-anchor="middle" font-weight="bold" stroke="#000" stroke-width="0.22">Dose concentration (µg ml<tspan font-size="5.8" dy="-2.8">-1</tspan><tspan dy="2.8">)</tspan></text>
<text transform="translate(20.00 253.60) rotate(-90) scale(1.0 1.0) translate(0 3.04)" font-size="8.5" text-anchor="middle" fill="#000" stroke="#000" stroke-width="0.2" font-weight="bold" >Cell Viability (%)</text>
<text transform="translate(5.20 189.40) scale(1.0 1.0)" font-size="12.7" text-anchor="start" fill="#000" stroke="#000" stroke-width="0.08" font-weight="bold" >(d)</text>
<rect x="49.20" y="189.20" width="15.00" height="6.60" fill="#000000" stroke="#333" stroke-width="0.4"/>
<text transform="translate(66.20 194.95) scale(1.0 1.0)" font-size="8.1" text-anchor="start" fill="#000" stroke="#000" stroke-width="0.2" font-weight="bold" >HeK293</text>
<rect x="49.20" y="199.40" width="15.00" height="6.60" fill="#00f000" stroke="#333" stroke-width="0.4"/>
<text transform="translate(66.20 205.15) scale(1.0 1.0)" font-size="8.1" text-anchor="start" fill="#000" stroke="#000" stroke-width="0.2" font-weight="bold" >HeLa</text>
<rect x="49.20" y="209.60" width="15.00" height="6.60" fill="#ff0000" stroke="#333" stroke-width="0.4"/>
<text transform="translate(66.20 215.35) scale(1.0 1.0)" font-size="8.1" text-anchor="start" fill="#000" stroke="#000" stroke-width="0.2" font-weight="bold" >A549</text>
<rect x="49.20" y="219.80" width="15.00" height="6.60" fill="#ffff00" stroke="#333" stroke-width="0.4"/>
<text transform="translate(66.20 225.55) scale(1.0 1.0)" font-size="8.1" text-anchor="start" fill="#000" stroke="#000" stroke-width="0.2" font-weight="bold" >SCC7</text>
<rect x="287.30" y="274.79" width="3.85" height="37.51" fill="#000000"/>
<line x1="289.23" y1="274.79" x2="289.23" y2="273.25" stroke="#555" stroke-width="0.65" />
<line x1="287.98" y1="273.25" x2="290.48" y2="273.25" stroke="#555" stroke-width="0.55" />
<rect x="291.15" y="274.53" width="3.85" height="37.77" fill="#00f000"/>
<line x1="293.08" y1="275.55" x2="293.08" y2="273.51" stroke="#1c1c1c" stroke-width="0.65" />
<line x1="291.83" y1="273.51" x2="294.33" y2="273.51" stroke="#1c1c1c" stroke-width="0.55" />
<line x1="291.83" y1="275.55" x2="294.33" y2="275.55" stroke="#1c1c1c" stroke-width="0.55" />
<rect x="295.00" y="262.03" width="3.85" height="50.27" fill="#ff0000"/>
<line x1="296.93" y1="262.79" x2="296.93" y2="261.26" stroke="#1c1c1c" stroke-width="0.65" />
<line x1="295.68" y1="261.26" x2="298.18" y2="261.26" stroke="#1c1c1c" stroke-width="0.55" />
<line x1="295.68" y1="262.79" x2="298.18" y2="262.79" stroke="#1c1c1c" stroke-width="0.55" />
<rect x="299.05" y="218.90" width="3.45" height="93.40" fill="#ffff00" stroke="#6b6b00" stroke-width="0.45"/>
<line x1="300.78" y1="220.43" x2="300.78" y2="217.37" stroke="#1c1c1c" stroke-width="0.65" />
<line x1="299.53" y1="217.37" x2="302.03" y2="217.37" stroke="#1c1c1c" stroke-width="0.55" />
<line x1="299.53" y1="220.43" x2="302.03" y2="220.43" stroke="#1c1c1c" stroke-width="0.55" />
<rect x="306.47" y="280.91" width="3.85" height="31.39" fill="#000000"/>
<line x1="308.40" y1="280.91" x2="308.40" y2="279.12" stroke="#555" stroke-width="0.65" />
<line x1="307.15" y1="279.12" x2="309.65" y2="279.12" stroke="#555" stroke-width="0.55" />
<rect x="310.32" y="216.09" width="3.85" height="96.21" fill="#00f000"/>
<line x1="312.25" y1="218.64" x2="312.25" y2="213.54" stroke="#1c1c1c" stroke-width="0.65" />
<line x1="311.00" y1="213.54" x2="313.50" y2="213.54" stroke="#1c1c1c" stroke-width="0.55" />
<line x1="311.00" y1="218.64" x2="313.50" y2="218.64" stroke="#1c1c1c" stroke-width="0.55" />
<rect x="314.17" y="219.66" width="3.85" height="92.64" fill="#ff0000"/>
<line x1="316.10" y1="220.68" x2="316.10" y2="218.64" stroke="#1c1c1c" stroke-width="0.65" />
<line x1="314.85" y1="218.64" x2="317.35" y2="218.64" stroke="#1c1c1c" stroke-width="0.55" />
<line x1="314.85" y1="220.68" x2="317.35" y2="220.68" stroke="#1c1c1c" stroke-width="0.55" />
<rect x="318.22" y="194.14" width="3.45" height="118.16" fill="#ffff00" stroke="#6b6b00" stroke-width="0.45"/>
<line x1="319.95" y1="195.67" x2="319.95" y2="192.61" stroke="#1c1c1c" stroke-width="0.65" />
<line x1="318.70" y1="192.61" x2="321.20" y2="192.61" stroke="#1c1c1c" stroke-width="0.55" />
<line x1="318.70" y1="195.67" x2="321.20" y2="195.67" stroke="#1c1c1c" stroke-width="0.55" />
<rect x="325.64" y="282.95" width="3.85" height="29.35" fill="#000000"/>
<line x1="327.57" y1="282.95" x2="327.57" y2="281.17" stroke="#555" stroke-width="0.65" />
<line x1="326.32" y1="281.17" x2="328.82" y2="281.17" stroke="#555" stroke-width="0.55" />
<rect x="329.49" y="251.82" width="3.85" height="60.48" fill="#00f000"/>
<line x1="331.42" y1="253.09" x2="331.42" y2="250.54" stroke="#1c1c1c" stroke-width="0.65" />
<line x1="330.17" y1="250.54" x2="332.67" y2="250.54" stroke="#1c1c1c" stroke-width="0.55" />
<line x1="330.17" y1="253.09" x2="332.67" y2="253.09" stroke="#1c1c1c" stroke-width="0.55" />
<rect x="333.34" y="232.42" width="3.85" height="79.88" fill="#ff0000"/>
<line x1="335.27" y1="234.21" x2="335.27" y2="230.64" stroke="#1c1c1c" stroke-width="0.65" />
<line x1="334.02" y1="230.64" x2="336.52" y2="230.64" stroke="#1c1c1c" stroke-width="0.55" />
<line x1="334.02" y1="234.21" x2="336.52" y2="234.21" stroke="#1c1c1c" stroke-width="0.55" />
<rect x="337.39" y="214.56" width="3.45" height="97.74" fill="#ffff00" stroke="#6b6b00" stroke-width="0.45"/>
<line x1="339.12" y1="215.83" x2="339.12" y2="213.28" stroke="#1c1c1c" stroke-width="0.65" />
<line x1="337.87" y1="213.28" x2="340.37" y2="213.28" stroke="#1c1c1c" stroke-width="0.55" />
<line x1="337.87" y1="215.83" x2="340.37" y2="215.83" stroke="#1c1c1c" stroke-width="0.55" />
<rect x="344.81" y="284.74" width="3.85" height="27.56" fill="#000000"/>
<line x1="346.74" y1="284.74" x2="346.74" y2="283.46" stroke="#555" stroke-width="0.65" />
<line x1="345.49" y1="283.46" x2="347.99" y2="283.46" stroke="#555" stroke-width="0.55" />
<rect x="348.66" y="263.05" width="3.85" height="49.25" fill="#00f000"/>
<line x1="350.59" y1="264.83" x2="350.59" y2="261.26" stroke="#1c1c1c" stroke-width="0.65" />
<line x1="349.34" y1="261.26" x2="351.84" y2="261.26" stroke="#1c1c1c" stroke-width="0.55" />
<line x1="349.34" y1="264.83" x2="351.84" y2="264.83" stroke="#1c1c1c" stroke-width="0.55" />
<rect x="352.51" y="242.12" width="3.85" height="70.18" fill="#ff0000"/>
<line x1="354.44" y1="243.91" x2="354.44" y2="240.33" stroke="#1c1c1c" stroke-width="0.65" />
<line x1="353.19" y1="240.33" x2="355.69" y2="240.33" stroke="#1c1c1c" stroke-width="0.55" />
<line x1="353.19" y1="243.91" x2="355.69" y2="243.91" stroke="#1c1c1c" stroke-width="0.55" />
<rect x="356.56" y="226.04" width="3.45" height="86.26" fill="#ffff00" stroke="#6b6b00" stroke-width="0.45"/>
<line x1="358.29" y1="227.32" x2="358.29" y2="224.77" stroke="#1c1c1c" stroke-width="0.65" />
<line x1="357.04" y1="224.77" x2="359.54" y2="224.77" stroke="#1c1c1c" stroke-width="0.55" />
<line x1="357.04" y1="227.32" x2="359.54" y2="227.32" stroke="#1c1c1c" stroke-width="0.55" />
<rect x="363.98" y="286.52" width="3.85" height="25.78" fill="#000000"/>
<line x1="365.91" y1="286.52" x2="365.91" y2="284.23" stroke="#555" stroke-width="0.65" />
<line x1="364.66" y1="284.23" x2="367.16" y2="284.23" stroke="#555" stroke-width="0.55" />
<rect x="367.83" y="273.25" width="3.85" height="39.05" fill="#00f000"/>
<line x1="369.76" y1="275.04" x2="369.76" y2="271.47" stroke="#1c1c1c" stroke-width="0.65" />
<line x1="368.51" y1="271.47" x2="371.01" y2="271.47" stroke="#1c1c1c" stroke-width="0.55" />
<line x1="368.51" y1="275.04" x2="371.01" y2="275.04" stroke="#1c1c1c" stroke-width="0.55" />
<rect x="371.68" y="251.56" width="3.85" height="60.74" fill="#ff0000"/>
<line x1="373.61" y1="253.09" x2="373.61" y2="250.03" stroke="#1c1c1c" stroke-width="0.65" />
<line x1="372.36" y1="250.03" x2="374.86" y2="250.03" stroke="#1c1c1c" stroke-width="0.55" />
<line x1="372.36" y1="253.09" x2="374.86" y2="253.09" stroke="#1c1c1c" stroke-width="0.55" />
<rect x="375.73" y="240.59" width="3.45" height="71.71" fill="#ffff00" stroke="#6b6b00" stroke-width="0.45"/>
<line x1="377.46" y1="241.86" x2="377.46" y2="239.31" stroke="#1c1c1c" stroke-width="0.65" />
<line x1="376.21" y1="239.31" x2="378.71" y2="239.31" stroke="#1c1c1c" stroke-width="0.55" />
<line x1="376.21" y1="241.86" x2="378.71" y2="241.86" stroke="#1c1c1c" stroke-width="0.55" />
<rect x="383.15" y="292.39" width="3.85" height="19.91" fill="#000000"/>
<line x1="385.08" y1="292.39" x2="385.08" y2="291.37" stroke="#555" stroke-width="0.65" />
<line x1="383.83" y1="291.37" x2="386.33" y2="291.37" stroke="#555" stroke-width="0.55" />
<rect x="387.00" y="275.55" width="3.85" height="36.75" fill="#00f000"/>
<line x1="388.93" y1="277.08" x2="388.93" y2="274.02" stroke="#1c1c1c" stroke-width="0.65" />
<line x1="387.68" y1="274.02" x2="390.18" y2="274.02" stroke="#1c1c1c" stroke-width="0.55" />
<line x1="387.68" y1="277.08" x2="390.18" y2="277.08" stroke="#1c1c1c" stroke-width="0.55" />
<rect x="390.85" y="244.67" width="3.85" height="67.63" fill="#ff0000"/>
<line x1="392.78" y1="245.95" x2="392.78" y2="243.40" stroke="#1c1c1c" stroke-width="0.65" />
<line x1="391.53" y1="243.40" x2="394.03" y2="243.40" stroke="#1c1c1c" stroke-width="0.55" />
<line x1="391.53" y1="245.95" x2="394.03" y2="245.95" stroke="#1c1c1c" stroke-width="0.55" />
<rect x="394.90" y="237.78" width="3.45" height="74.52" fill="#ffff00" stroke="#6b6b00" stroke-width="0.45"/>
<line x1="396.63" y1="239.06" x2="396.63" y2="236.51" stroke="#1c1c1c" stroke-width="0.65" />
<line x1="395.38" y1="236.51" x2="397.88" y2="236.51" stroke="#1c1c1c" stroke-width="0.55" />
<line x1="395.38" y1="239.06" x2="397.88" y2="239.06" stroke="#1c1c1c" stroke-width="0.55" />
<rect x="402.32" y="293.93" width="3.85" height="18.37" fill="#000000"/>
<line x1="404.25" y1="293.93" x2="404.25" y2="293.42" stroke="#555" stroke-width="0.65" />
<line x1="403.00" y1="293.42" x2="405.50" y2="293.42" stroke="#555" stroke-width="0.55" />
<rect x="406.17" y="300.05" width="3.85" height="12.25" fill="#00f000"/>
<line x1="408.10" y1="300.82" x2="408.10" y2="299.28" stroke="#1c1c1c" stroke-width="0.65" />
<line x1="406.85" y1="299.28" x2="409.35" y2="299.28" stroke="#1c1c1c" stroke-width="0.55" />
<line x1="406.85" y1="300.82" x2="409.35" y2="300.82" stroke="#1c1c1c" stroke-width="0.55" />
<rect x="410.02" y="295.46" width="3.85" height="16.84" fill="#ff0000"/>
<line x1="411.94" y1="295.97" x2="411.94" y2="294.95" stroke="#1c1c1c" stroke-width="0.65" />
<line x1="410.69" y1="294.95" x2="413.19" y2="294.95" stroke="#1c1c1c" stroke-width="0.55" />
<line x1="410.69" y1="295.97" x2="413.19" y2="295.97" stroke="#1c1c1c" stroke-width="0.55" />
<rect x="414.07" y="290.61" width="3.45" height="21.69" fill="#ffff00" stroke="#6b6b00" stroke-width="0.45"/>
<line x1="415.80" y1="291.12" x2="415.80" y2="290.10" stroke="#1c1c1c" stroke-width="0.65" />
<line x1="414.55" y1="290.10" x2="417.05" y2="290.10" stroke="#1c1c1c" stroke-width="0.55" />
<line x1="414.55" y1="291.12" x2="417.05" y2="291.12" stroke="#1c1c1c" stroke-width="0.55" />
<rect x="421.49" y="298.01" width="3.85" height="14.29" fill="#000000"/>
<line x1="423.42" y1="298.01" x2="423.42" y2="296.73" stroke="#555" stroke-width="0.65" />
<line x1="422.17" y1="296.73" x2="424.67" y2="296.73" stroke="#555" stroke-width="0.55" />
<rect x="425.34" y="282.44" width="3.85" height="29.86" fill="#00f000"/>
<line x1="427.27" y1="283.72" x2="427.27" y2="281.17" stroke="#1c1c1c" stroke-width="0.65" />
<line x1="426.02" y1="281.17" x2="428.52" y2="281.17" stroke="#1c1c1c" stroke-width="0.55" />
<line x1="426.02" y1="283.72" x2="428.52" y2="283.72" stroke="#1c1c1c" stroke-width="0.55" />
<rect x="429.19" y="302.86" width="3.85" height="9.44" fill="#ff0000"/>
<line x1="431.12" y1="303.37" x2="431.12" y2="302.35" stroke="#1c1c1c" stroke-width="0.65" />
<line x1="429.87" y1="302.35" x2="432.37" y2="302.35" stroke="#1c1c1c" stroke-width="0.55" />
<line x1="429.87" y1="303.37" x2="432.37" y2="303.37" stroke="#1c1c1c" stroke-width="0.55" />
<rect x="433.24" y="305.92" width="3.45" height="6.38" fill="#ffff00" stroke="#6b6b00" stroke-width="0.45"/>
<line x1="434.97" y1="306.69" x2="434.97" y2="305.15" stroke="#1c1c1c" stroke-width="0.65" />
<line x1="433.72" y1="305.15" x2="436.22" y2="305.15" stroke="#1c1c1c" stroke-width="0.55" />
<line x1="433.72" y1="306.69" x2="436.22" y2="306.69" stroke="#1c1c1c" stroke-width="0.55" />
<rect x="275.6" y="185.2" width="172.60" height="127.10" fill="none" stroke="#111" stroke-width="1.2"/>
<line x1="273.20" y1="312.30" x2="275.60" y2="312.30" stroke="#111" stroke-width="1.2" />
<text transform="translate(271.60 314.82) scale(1.0 1.0)" font-size="8.3" text-anchor="end" fill="#000" stroke="#000" stroke-width="0.2" font-weight="bold" >0</text>
<line x1="274.20" y1="299.54" x2="275.60" y2="299.54" stroke="#111" stroke-width="1.2" />
<line x1="273.20" y1="286.78" x2="275.60" y2="286.78" stroke="#111" stroke-width="1.2" />
<text transform="translate(271.60 289.30) scale(1.0 1.0)" font-size="8.3" text-anchor="end" fill="#000" stroke="#000" stroke-width="0.2" font-weight="bold" >10</text>
<line x1="274.20" y1="274.02" x2="275.60" y2="274.02" stroke="#111" stroke-width="1.2" />
<line x1="273.20" y1="261.26" x2="275.60" y2="261.26" stroke="#111" stroke-width="1.2" />
<text transform="translate(271.60 263.78) scale(1.0 1.0)" font-size="8.3" text-anchor="end" fill="#000" stroke="#000" stroke-width="0.2" font-weight="bold" >20</text>
<line x1="274.20" y1="248.50" x2="275.60" y2="248.50" stroke="#111" stroke-width="1.2" />
<line x1="273.20" y1="235.74" x2="275.60" y2="235.74" stroke="#111" stroke-width="1.2" />
<text transform="translate(271.60 238.26) scale(1.0 1.0)" font-size="8.3" text-anchor="end" fill="#000" stroke="#000" stroke-width="0.2" font-weight="bold" >30</text>
<line x1="274.20" y1="222.98" x2="275.60" y2="222.98" stroke="#111" stroke-width="1.2" />
<line x1="273.20" y1="210.22" x2="275.60" y2="210.22" stroke="#111" stroke-width="1.2" />
<text transform="translate(271.60 212.74) scale(1.0 1.0)" font-size="8.3" text-anchor="end" fill="#000" stroke="#000" stroke-width="0.2" font-weight="bold" >40</text>
<line x1="274.20" y1="197.46" x2="275.60" y2="197.46" stroke="#111" stroke-width="1.2" />
<line x1="273.20" y1="185.20" x2="275.60" y2="185.20" stroke="#111" stroke-width="1.2" />
<text transform="translate(271.60 187.72) scale(1.0 1.0)" font-size="8.3" text-anchor="end" fill="#000" stroke="#000" stroke-width="0.2" font-weight="bold" >50</text>
<line x1="275.60" y1="312.30" x2="275.60" y2="315.30" stroke="#111" stroke-width="1.2" />
<line x1="448.20" y1="312.30" x2="448.20" y2="315.30" stroke="#111" stroke-width="1.2" />
<line x1="295.00" y1="312.30" x2="295.00" y2="315.30" stroke="#111" stroke-width="1.2" />
<text transform="translate(295.00 325.73) scale(1.0 1.0)" font-size="8.6" text-anchor="middle" fill="#000" stroke="#000" stroke-width="0.2" font-weight="bold" >DOX</text>
<line x1="314.17" y1="312.30" x2="314.17" y2="315.30" stroke="#111" stroke-width="1.2" />
<text transform="translate(314.17 325.73) scale(1.0 1.0)" font-size="8.6" text-anchor="middle" fill="#000" stroke="#000" stroke-width="0.2" font-weight="bold" >80</text>
<line x1="333.34" y1="312.30" x2="333.34" y2="315.30" stroke="#111" stroke-width="1.2" />
<text transform="translate(333.34 325.73) scale(1.0 1.0)" font-size="8.6" text-anchor="middle" fill="#000" stroke="#000" stroke-width="0.2" font-weight="bold" >40</text>
<line x1="352.51" y1="312.30" x2="352.51" y2="315.30" stroke="#111" stroke-width="1.2" />
<text transform="translate(352.51 325.73) scale(1.0 1.0)" font-size="8.6" text-anchor="middle" fill="#000" stroke="#000" stroke-width="0.2" font-weight="bold" >20</text>
<line x1="371.68" y1="312.30" x2="371.68" y2="315.30" stroke="#111" stroke-width="1.2" />
<text transform="translate(371.68 325.73) scale(1.0 1.0)" font-size="8.6" text-anchor="middle" fill="#000" stroke="#000" stroke-width="0.2" font-weight="bold" >10</text>
<line x1="390.85" y1="312.30" x2="390.85" y2="315.30" stroke="#111" stroke-width="1.2" />
<text transform="translate(390.85 325.73) scale(1.0 1.0)" font-size="8.6" text-anchor="middle" fill="#000" stroke="#000" stroke-width="0.2" font-weight="bold" >5</text>
<line x1="410.02" y1="312.30" x2="410.02" y2="315.30" stroke="#111" stroke-width="1.2" />
<text transform="translate(410.02 325.73) scale(1.0 1.0)" font-size="8.6" text-anchor="middle" fill="#000" stroke="#000" stroke-width="0.2" font-weight="bold" >UCNP</text>
<line x1="429.19" y1="312.30" x2="429.19" y2="315.30" stroke="#111" stroke-width="1.2" />
<text transform="translate(429.19 325.73) scale(1.0 1.0)" font-size="8.6" text-anchor="middle" fill="#000" stroke="#000" stroke-width="0.2" font-weight="bold" >0</text>
<text transform="translate(411.32 336.23) scale(1.0 1.0)" font-size="8.6" text-anchor="middle" fill="#000" stroke="#000" stroke-width="0.2" font-weight="bold" >@PAA</text>
<text x="366.9" y="347.04" font-size="8.5" text-anchor="middle" font-weight="bold" stroke="#000" stroke-width="0.22">Dose concentration (µg ml<tspan font-size="5.8" dy="-2.8">-1</tspan><tspan dy="2.8">)</tspan></text>
<text transform="translate(254.40 251.00) rotate(-90) scale(1.0 1.0) translate(0 2.99)" font-size="8.35" text-anchor="middle" fill="#000" stroke="#000" stroke-width="0.2" font-weight="bold" >% Apoptotic cells</text>
<text transform="translate(238.00 189.40) scale(1.0 1.0)" font-size="12.7" text-anchor="start" fill="#000" stroke="#000" stroke-width="0.08" font-weight="bold" >(e)</text>
<rect x="397.40" y="189.90" width="15.00" height="6.60" fill="#000000" stroke="#333" stroke-width="0.4"/>
<text transform="translate(414.60 195.65) scale(1.0 1.0)" font-size="8.1" text-anchor="start" fill="#000" stroke="#000" stroke-width="0.2" font-weight="bold" >HeK293</text>
<rect x="397.40" y="200.10" width="15.00" height="6.60" fill="#00f000" stroke="#333" stroke-width="0.4"/>
<text transform="translate(414.60 205.85) scale(1.0 1.0)" font-size="8.1" text-anchor="start" fill="#000" stroke="#000" stroke-width="0.2" font-weight="bold" >HeLa</text>
<rect x="397.40" y="210.30" width="15.00" height="6.60" fill="#ff0000" stroke="#333" stroke-width="0.4"/>
<text transform="translate(414.60 216.05) scale(1.0 1.0)" font-size="8.1" text-anchor="start" fill="#000" stroke="#000" stroke-width="0.2" font-weight="bold" >A549</text>
<rect x="397.40" y="220.50" width="15.00" height="6.60" fill="#ffff00" stroke="#333" stroke-width="0.4"/>
<text transform="translate(414.60 226.25) scale(1.0 1.0)" font-size="8.1" text-anchor="start" fill="#000" stroke="#000" stroke-width="0.2" font-weight="bold" >SCC7</text>
<polyline points="516.00,304.85 517.61,304.66 519.23,304.45 520.84,304.23 522.45,303.99 524.07,303.73 525.68,303.45 527.29,303.15 528.90,302.82 530.52,302.47 532.13,302.10 533.74,301.70 535.36,301.27 536.97,300.81 538.58,300.31 540.20,299.78 541.81,299.21 543.42,298.60 545.03,297.96 546.65,297.27 548.26,296.53 549.87,295.75 551.49,294.92 553.10,294.04 554.71,293.10 556.33,292.12 557.94,291.08 559.55,289.98 561.16,288.83 562.78,287.62 564.39,286.36 566.00,285.04 567.62,283.66 569.23,282.23 570.84,280.74 572.46,279.21 574.07,277.63 575.68,276.00 577.29,274.33 578.91,272.62 580.52,270.88 582.13,269.12 583.75,267.33 585.36,265.52 586.97,263.70 588.59,261.87 590.20,260.05 591.81,258.23 593.42,256.42 595.04,254.63 596.65,252.86 598.26,251.12 599.88,249.42 601.49,247.75 603.10,246.12 604.72,244.54 606.33,243.00 607.94,241.52 609.55,240.09 611.17,238.71 612.78,237.39 614.39,236.12 616.01,234.92 617.62,233.76 619.23,232.67 620.85,231.63 622.46,230.64 624.07,229.71 625.68,228.83 627.30,228.00 628.91,227.22 630.52,226.48 632.14,225.79 633.75,225.14 635.36,224.54 636.98,223.97 638.59,223.44 640.20,222.94 641.81,222.48 643.43,222.05 645.04,221.65 646.65,221.27 648.27,220.92 649.88,220.60 651.49,220.30 653.11,220.02 654.72,219.76 656.33,219.52 657.94,219.30 659.56,219.09 661.17,218.90 662.78,218.72 664.40,218.56 666.01,218.41 667.62,218.26 669.24,218.13" fill="none" stroke="#f4f400" stroke-width="1.35" stroke-linejoin="round" stroke-linecap="round" />
<polyline points="516.00,305.42 517.61,305.20 519.23,304.96 520.84,304.70 522.45,304.44 524.07,304.15 525.68,303.85 527.29,303.54 528.90,303.20 530.52,302.85 532.13,302.47 533.74,302.08 535.36,301.67 536.97,301.23 538.58,300.77 540.20,300.28 541.81,299.77 543.42,299.23 545.03,298.67 546.65,298.08 548.26,297.46 549.87,296.81 551.49,296.12 553.10,295.41 554.71,294.67 556.33,293.89 557.94,293.08 559.55,292.23 561.16,291.35 562.78,290.44 564.39,289.49 566.00,288.50 567.62,287.49 569.23,286.43 570.84,285.34 572.46,284.22 574.07,283.07 575.68,281.88 577.29,280.66 578.91,279.42 580.52,278.14 582.13,276.84 583.75,275.51 585.36,274.16 586.97,272.79 588.59,271.40 590.20,269.99 591.81,268.57 593.42,267.14 595.04,265.70 596.65,264.26 598.26,262.81 599.88,261.36 601.49,259.91 603.10,258.47 604.72,257.04 606.33,255.62 607.94,254.22 609.55,252.83 611.17,251.46 612.78,250.11 614.39,248.78 616.01,247.48 617.62,246.20 619.23,244.95 620.85,243.73 622.46,242.55 624.07,241.39 625.68,240.27 627.30,239.18 628.91,238.13 630.52,237.11 632.14,236.13 633.75,235.18 635.36,234.26 636.98,233.38 638.59,232.54 640.20,231.73 641.81,230.95 643.43,230.20 645.04,229.49 646.65,228.81 648.27,228.16 649.88,227.54 651.49,226.95 653.11,226.38 654.72,225.84 656.33,225.33 657.94,224.85 659.56,224.39 661.17,223.95 662.78,223.53 664.40,223.14 666.01,222.77 667.62,222.41 669.24,222.08" fill="none" stroke="#10e810" stroke-width="1.35" stroke-linejoin="round" stroke-linecap="round" />
<polyline points="516.00,297.85 517.61,297.32 519.23,296.77 520.84,296.20 522.45,295.62 524.07,295.01 525.68,294.38 527.29,293.73 528.90,293.07 530.52,292.37 532.13,291.66 533.74,290.93 535.36,290.17 536.97,289.40 538.58,288.60 540.20,287.78 541.81,286.94 543.42,286.07 545.03,285.19 546.65,284.29 548.26,283.36 549.87,282.42 551.49,281.46 553.10,280.47 554.71,279.48 556.33,278.46 557.94,277.43 559.55,276.38 561.16,275.31 562.78,274.24 564.39,273.15 566.00,272.05 567.62,270.94 569.23,269.82 570.84,268.69 572.46,267.56 574.07,266.42 575.68,265.28 577.29,264.13 578.91,262.99 580.52,261.84 582.13,260.70 583.75,259.56 585.36,258.42 586.97,257.29 588.59,256.17 590.20,255.05 591.81,253.95 593.42,252.85 595.04,251.77 596.65,250.70 598.26,249.65 599.88,248.61 601.49,247.58 603.10,246.57 604.72,245.58 606.33,244.61 607.94,243.66 609.55,242.72 611.17,241.81 612.78,240.91 614.39,240.04 616.01,239.19 617.62,238.36 619.23,237.55 620.85,236.76 622.46,236.00 624.07,235.25 625.68,234.53 627.30,233.83 628.91,233.15 630.52,232.49 632.14,231.85 633.75,231.23 635.36,230.64 636.98,230.06 638.59,229.50 640.20,228.97 641.81,228.45 643.43,227.95 645.04,227.46 646.65,227.00 648.27,226.55 649.88,226.12 651.49,225.71 653.11,225.31 654.72,224.93 656.33,224.57 657.94,224.21 659.56,223.87 661.17,223.55 662.78,223.24 664.40,222.94 666.01,222.66 667.62,222.38 669.24,222.12" fill="none" stroke="#f81010" stroke-width="1.35" stroke-linejoin="round" stroke-linecap="round" />
<polyline points="516.00,295.88 517.61,295.27 519.23,294.64 520.84,293.99 522.45,293.32 524.07,292.63 525.68,291.92 527.29,291.18 528.90,290.42 530.52,289.64 532.13,288.84 533.74,288.01 535.36,287.17 536.97,286.30 538.58,285.41 540.20,284.49 541.81,283.56 543.42,282.61 545.03,281.64 546.65,280.64 548.26,279.63 549.87,278.61 551.49,277.56 553.10,276.50 554.71,275.42 556.33,274.33 557.94,273.23 559.55,272.11 561.16,270.99 562.78,269.85 564.39,268.71 566.00,267.56 567.62,266.41 569.23,265.25 570.84,264.09 572.46,262.93 574.07,261.76 575.68,260.61 577.29,259.45 578.91,258.30 580.52,257.15 582.13,256.01 583.75,254.88 585.36,253.77 586.97,252.66 588.59,251.56 590.20,250.48 591.81,249.41 593.42,248.36 595.04,247.33 596.65,246.31 598.26,245.31 599.88,244.33 601.49,243.37 603.10,242.43 604.72,241.51 606.33,240.61 607.94,239.73 609.55,238.87 611.17,238.04 612.78,237.23 614.39,236.44 616.01,235.67 617.62,234.92 619.23,234.20 620.85,233.50 622.46,232.82 624.07,232.16 625.68,231.53 627.30,230.91 628.91,230.32 630.52,229.74 632.14,229.19 633.75,228.66 635.36,228.14 636.98,227.65 638.59,227.17 640.20,226.71 641.81,226.27 643.43,225.84 645.04,225.44 646.65,225.04 648.27,224.67 649.88,224.31 651.49,223.96 653.11,223.63 654.72,223.31 656.33,223.00 657.94,222.71 659.56,222.43 661.17,222.16 662.78,221.91 664.40,221.66 666.01,221.43 667.62,221.20 669.24,220.99" fill="none" stroke="#111" stroke-width="1.35" stroke-linejoin="round" stroke-linecap="round" />
<line x1="516.00" y1="311.59" x2="516.00" y2="305.61" stroke="#0a0a0a" stroke-width="1.4" />
<line x1="513.10" y1="305.61" x2="518.90" y2="305.61" stroke="#0a0a0a" stroke-width="1.4" />
<line x1="513.10" y1="311.59" x2="518.90" y2="311.59" stroke="#0a0a0a" stroke-width="1.4" />
<line x1="572.46" y1="285.24" x2="572.46" y2="275.89" stroke="#0a0a0a" stroke-width="1.4" />
<line x1="569.56" y1="275.89" x2="575.36" y2="275.89" stroke="#0a0a0a" stroke-width="1.4" />
<line x1="569.56" y1="285.24" x2="575.36" y2="285.24" stroke="#0a0a0a" stroke-width="1.4" />
<line x1="596.65" y1="257.85" x2="596.65" y2="236.36" stroke="#0a0a0a" stroke-width="1.4" />
<line x1="593.75" y1="236.36" x2="599.55" y2="236.36" stroke="#0a0a0a" stroke-width="1.4" />
<line x1="593.75" y1="257.85" x2="599.55" y2="257.85" stroke="#0a0a0a" stroke-width="1.4" />
<line x1="620.85" y1="244.30" x2="620.85" y2="230.10" stroke="#0a0a0a" stroke-width="1.4" />
<line x1="617.95" y1="230.10" x2="623.75" y2="230.10" stroke="#0a0a0a" stroke-width="1.4" />
<line x1="617.95" y1="244.30" x2="623.75" y2="244.30" stroke="#0a0a0a" stroke-width="1.4" />
<line x1="645.04" y1="234.31" x2="645.04" y2="221.22" stroke="#0a0a0a" stroke-width="1.4" />
<line x1="642.14" y1="221.22" x2="647.94" y2="221.22" stroke="#0a0a0a" stroke-width="1.4" />
<line x1="642.14" y1="234.31" x2="647.94" y2="234.31" stroke="#0a0a0a" stroke-width="1.4" />
<line x1="669.24" y1="222.62" x2="669.24" y2="209.54" stroke="#0a0a0a" stroke-width="1.4" />
<line x1="666.34" y1="209.54" x2="672.13" y2="209.54" stroke="#0a0a0a" stroke-width="1.4" />
<line x1="666.34" y1="222.62" x2="672.13" y2="222.62" stroke="#0a0a0a" stroke-width="1.4" />
<circle cx="516.00" cy="308.60" r="2.10" fill="#000"/>
<circle cx="572.46" cy="280.56" r="2.10" fill="#000"/>
<circle cx="596.65" cy="247.11" r="2.10" fill="#000"/>
<circle cx="620.85" cy="237.20" r="2.10" fill="#000"/>
<circle cx="645.04" cy="227.76" r="2.10" fill="#000"/>
<circle cx="669.24" cy="216.08" r="2.10" fill="#000"/>
<rect x="513.50" y="307.03" width="5.00" height="5.00" fill="#10f010"/>
<rect x="569.96" y="276.66" width="5.00" height="5.00" fill="#10f010"/>
<rect x="594.15" y="262.64" width="5.00" height="5.00" fill="#10f010"/>
<rect x="618.35" y="247.88" width="5.00" height="5.00" fill="#10f010"/>
<rect x="642.54" y="227.13" width="5.00" height="5.00" fill="#10f010"/>
<rect x="666.74" y="214.52" width="5.00" height="5.00" fill="#10f010"/>
<polygon points="514.30,312.17 517.70,312.17 516.00,308.77" fill="#ff0000"/>
<polygon points="569.86,247.18 575.06,247.18 572.46,241.98" fill="#ff0000"/>
<polygon points="594.95,253.29 598.35,253.29 596.65,249.89" fill="#ff0000"/>
<polygon points="619.14,240.68 622.55,240.68 620.85,237.28" fill="#ff0000"/>
<polygon points="643.34,229.46 646.74,229.46 645.04,226.06" fill="#ff0000"/>
<polygon points="667.53,221.05 670.94,221.05 669.24,217.65" fill="#ff0000"/>
<polygon points="513.80,307.33 518.20,307.33 516.00,311.73" fill="#ffff00"/>
<polygon points="569.86,249.46 575.06,249.46 572.46,254.66" fill="#ffff00"/>
<polygon points="594.45,252.66 598.85,252.66 596.65,257.06" fill="#ffff00"/>
<polygon points="618.64,240.24 623.05,240.24 620.85,244.64" fill="#ffff00"/>
<polygon points="642.84,229.86 647.24,229.86 645.04,234.26" fill="#ffff00"/>
<polygon points="667.03,214.35 671.44,214.35 669.24,218.75" fill="#ffff00"/>
<line x1="508.40" y1="197.60" x2="508.40" y2="310.25" stroke="#111" stroke-width="1.2" />
<line x1="508.40" y1="309.75" x2="677.50" y2="309.75" stroke="#111" stroke-width="1.2" />
<line x1="505.40" y1="310.00" x2="508.40" y2="310.00" stroke="#111" stroke-width="1.2" />
<text transform="translate(504.30 312.66) scale(0.92 1.0)" font-size="8.700000000000001" text-anchor="end" fill="#000" stroke="#000" stroke-width="0.2" font-weight="bold" >0</text>
<line x1="505.40" y1="291.31" x2="508.40" y2="291.31" stroke="#111" stroke-width="1.2" />
<text transform="translate(504.30 293.97) scale(0.92 1.0)" font-size="8.700000000000001" text-anchor="end" fill="#000" stroke="#000" stroke-width="0.2" font-weight="bold" >20</text>
<line x1="505.40" y1="272.62" x2="508.40" y2="272.62" stroke="#111" stroke-width="1.2" />
<text transform="translate(504.30 275.28) scale(0.92 1.0)" font-size="8.700000000000001" text-anchor="end" fill="#000" stroke="#000" stroke-width="0.2" font-weight="bold" >40</text>
<line x1="505.40" y1="253.93" x2="508.40" y2="253.93" stroke="#111" stroke-width="1.2" />
<text transform="translate(504.30 256.59) scale(0.92 1.0)" font-size="8.700000000000001" text-anchor="end" fill="#000" stroke="#000" stroke-width="0.2" font-weight="bold" >60</text>
<line x1="505.40" y1="235.24" x2="508.40" y2="235.24" stroke="#111" stroke-width="1.2" />
<text transform="translate(504.30 237.90) scale(0.92 1.0)" font-size="8.700000000000001" text-anchor="end" fill="#000" stroke="#000" stroke-width="0.2" font-weight="bold" >80</text>
<line x1="505.40" y1="216.55" x2="508.40" y2="216.55" stroke="#111" stroke-width="1.2" />
<text transform="translate(504.30 219.21) scale(0.92 1.0)" font-size="8.700000000000001" text-anchor="end" fill="#000" stroke="#000" stroke-width="0.2" font-weight="bold" >100</text>
<line x1="505.40" y1="197.86" x2="508.40" y2="197.86" stroke="#111" stroke-width="1.2" />
<text transform="translate(504.30 200.52) scale(0.92 1.0)" font-size="8.700000000000001" text-anchor="end" fill="#000" stroke="#000" stroke-width="0.2" font-weight="bold" >120</text>
<line x1="516.00" y1="309.75" x2="516.00" y2="312.75" stroke="#111" stroke-width="1.2" />
<text transform="translate(516.00 322.26) scale(0.95 1.0)" font-size="8.700000000000001" text-anchor="middle" fill="#000" stroke="#000" stroke-width="0.2" font-weight="bold" >0.0</text>
<line x1="556.33" y1="309.75" x2="556.33" y2="312.75" stroke="#111" stroke-width="1.2" />
<text transform="translate(556.33 322.26) scale(0.95 1.0)" font-size="8.700000000000001" text-anchor="middle" fill="#000" stroke="#000" stroke-width="0.2" font-weight="bold" >0.5</text>
<line x1="596.65" y1="309.75" x2="596.65" y2="312.75" stroke="#111" stroke-width="1.2" />
<text transform="translate(596.65 322.26) scale(0.95 1.0)" font-size="8.700000000000001" text-anchor="middle" fill="#000" stroke="#000" stroke-width="0.2" font-weight="bold" >1.0</text>
<line x1="636.98" y1="309.75" x2="636.98" y2="312.75" stroke="#111" stroke-width="1.2" />
<text transform="translate(636.98 322.26) scale(0.95 1.0)" font-size="8.700000000000001" text-anchor="middle" fill="#000" stroke="#000" stroke-width="0.2" font-weight="bold" >1.5</text>
<line x1="677.30" y1="309.75" x2="677.30" y2="312.75" stroke="#111" stroke-width="1.2" />
<text transform="translate(677.30 322.26) scale(0.95 1.0)" font-size="8.700000000000001" text-anchor="middle" fill="#000" stroke="#000" stroke-width="0.2" font-weight="bold" >2.0</text>
<text x="600.3" y="347.08" font-size="8.6" text-anchor="middle" font-weight="bold" stroke="#000" stroke-width="0.22">Log dose concentration (µg ml<tspan font-size="5.8" dy="-2.8">-1</tspan><tspan dy="2.8">)</tspan></text>
<text transform="translate(480.00 253.40) rotate(-90) scale(1.0 1.0) translate(0 3.04)" font-size="8.5" text-anchor="middle" fill="#000" stroke="#000" stroke-width="0.2" font-weight="bold" >%Apoptosis cells</text>
<text transform="translate(465.00 189.05) scale(1.0 1.0)" font-size="12" text-anchor="start" fill="#000" stroke="#000" stroke-width="0.08" font-weight="bold" >(f)</text>
<circle cx="520.60" cy="205.30" r="2.45" fill="#000"/>
<text transform="translate(533.70 208.07) scale(1.0 1.0)" font-size="9.0" text-anchor="start" fill="#000" stroke="#000" stroke-width="0.2" font-weight="bold" >Hek293</text>
<rect x="518.15" y="215.45" width="4.90" height="4.90" fill="#10f010"/>
<text transform="translate(533.70 220.67) scale(1.0 1.0)" font-size="9.0" text-anchor="start" fill="#000" stroke="#000" stroke-width="0.2" font-weight="bold" >HeLa</text>
<polygon points="517.90,233.20 523.30,233.20 520.60,227.80" fill="#ff0000"/>
<text transform="translate(533.70 233.27) scale(1.0 1.0)" font-size="9.0" text-anchor="start" fill="#000" stroke="#000" stroke-width="0.2" font-weight="bold" >A549</text>
<polygon points="517.90,240.40 523.30,240.40 520.60,245.80" fill="#ffff00"/>
<text transform="translate(533.70 245.87) scale(1.0 1.0)" font-size="9.0" text-anchor="start" fill="#000" stroke="#000" stroke-width="0.2" font-weight="bold" >SCC7</text>
</svg>
</body></html>
